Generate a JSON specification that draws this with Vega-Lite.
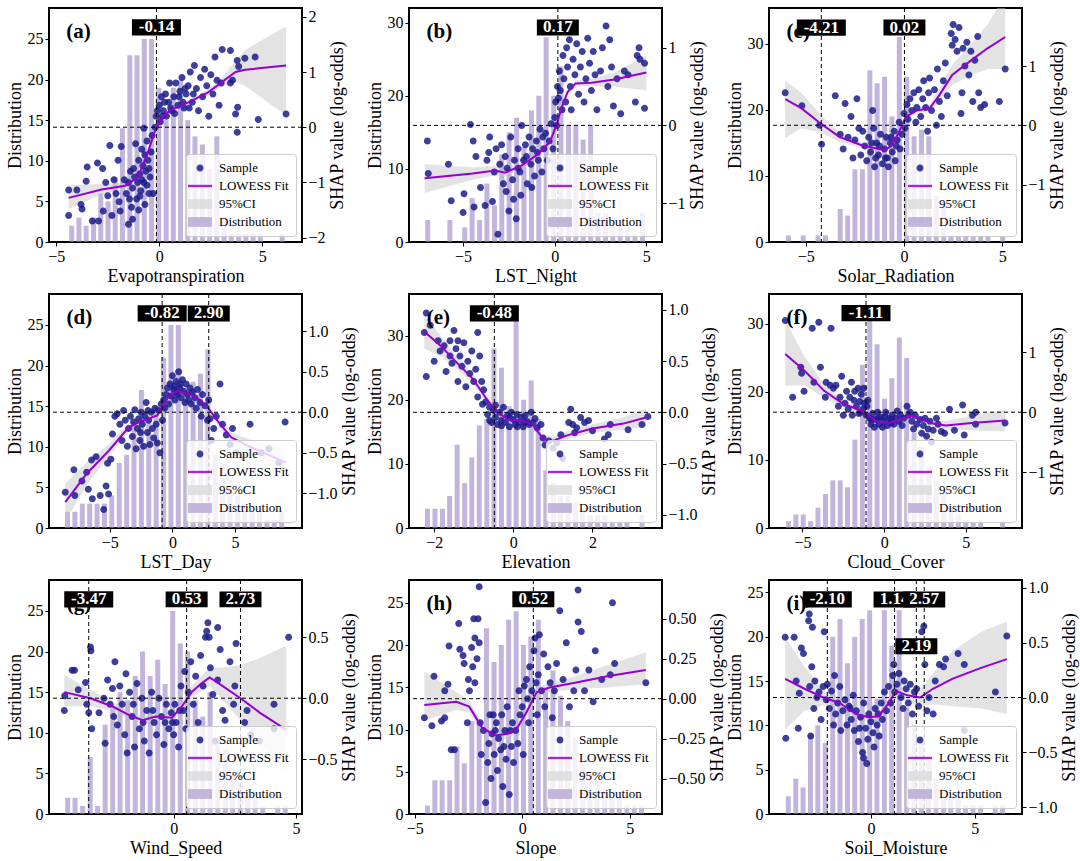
{
"$schema":"https://vega.github.io/schema/vega-lite/v6.json",
"padding":{"left":5,"top":6,"right":5,"bottom":3},
"bounds":"flush",
"columns":3,
"spacing":{"row":52,"column":107},
"resolve":{"scale":{"color":"independent","shape":"independent"},"legend":{"color":"independent","shape":"independent"}},
"config":{
 "view":{"stroke":"black","strokeWidth":2},
 "axis":{"domain":false,"grid":false,"tickColor":"black","tickSize":4,"tickWidth":1,"labelFont":"Liberation Serif","labelFontSize":16,"labelColor":"black","titleFont":"Liberation Serif","titleFontSize":18,"titleFontWeight":"normal","titleColor":"black","labelPadding":2,"titlePadding":3,"labelFlush":false},
 "legend":{"orient":"bottom-right","offset":6,"fillColor":"rgba(255,255,255,0.8)","strokeColor":"#cccccc","padding":7,"cornerRadius":3,"labelFont":"Liberation Serif","labelFontSize":13,"labelColor":"black","symbolSize":196,"rowPadding":4,"labelOffset":12,"symbolStrokeWidth":0}
},
"datasets":{
"thr":[{"p":"a","t":-0.14,"lab":"-0.14"},{"p":"b","t":0.17,"lab":"0.17"},{"p":"c","t":-4.21,"lab":"-4.21"},{"p":"c","t":0.02,"lab":"0.02"},{"p":"d","t":-0.82,"lab":"-0.82"},{"p":"d","t":2.9,"lab":"2.90"},{"p":"e","t":-0.48,"lab":"-0.48"},{"p":"f","t":-1.11,"lab":"-1.11"},{"p":"g","t":-3.47,"lab":"-3.47"},{"p":"g","t":0.53,"lab":"0.53"},{"p":"g","t":2.73,"lab":"2.73"},{"p":"h","t":0.52,"lab":"0.52"},{"p":"i","t":-2.1,"lab":"-2.10"},{"p":"i","t":1.14,"lab":"1.14"},{"p":"i","t":2.19,"lab":"2.19"},{"p":"i","t":2.57,"lab":"2.57"}],
"bars":[
{"p":"a","x":-4.25,"n":2},{"p":"a","x":-3.9,"n":3},{"p":"a","x":-3.55,"n":2},{"p":"a","x":-3.19,"n":3},{"p":"a","x":-2.84,"n":6},{"p":"a","x":-2.49,"n":5},{"p":"a","x":-2.14,"n":8},{"p":"a","x":-1.79,"n":14},{"p":"a","x":-1.43,"n":23},{"p":"a","x":-1.08,"n":23},{"p":"a","x":-0.73,"n":25},{"p":"a","x":-0.38,"n":25},{"p":"a","x":-0.03,"n":19},{"p":"a","x":0.33,"n":15},{"p":"a","x":0.68,"n":19},{"p":"a","x":1.03,"n":20},{"p":"a","x":1.38,"n":15},{"p":"a","x":1.73,"n":13},{"p":"a","x":2.09,"n":12},{"p":"a","x":2.44,"n":9},{"p":"a","x":2.79,"n":13},{"p":"a","x":3.14,"n":3},{"p":"a","x":3.49,"n":1},{"p":"a","x":3.85,"n":1},{"p":"a","x":4.2,"n":1},{"p":"a","x":4.55,"n":1},{"p":"a","x":4.9,"n":1},{"p":"a","x":5.96,"n":1},
{"p":"b","x":-6.93,"n":3},{"p":"b","x":-5.72,"n":3},{"p":"b","x":-4.91,"n":2},{"p":"b","x":-4.51,"n":6},{"p":"b","x":-4.1,"n":3},{"p":"b","x":-3.7,"n":8},{"p":"b","x":-3.29,"n":5},{"p":"b","x":-2.89,"n":12},{"p":"b","x":-2.49,"n":15},{"p":"b","x":-2.08,"n":17},{"p":"b","x":-1.68,"n":13},{"p":"b","x":-1.27,"n":18},{"p":"b","x":-0.87,"n":20},{"p":"b","x":-0.47,"n":28},{"p":"b","x":-0.06,"n":20},{"p":"b","x":0.34,"n":24},{"p":"b","x":0.75,"n":16},{"p":"b","x":1.15,"n":16},{"p":"b","x":1.55,"n":14},{"p":"b","x":1.96,"n":16},{"p":"b","x":2.36,"n":4},{"p":"b","x":2.77,"n":4},{"p":"b","x":3.17,"n":3},{"p":"b","x":3.57,"n":2},{"p":"b","x":3.98,"n":2},{"p":"b","x":4.38,"n":1},{"p":"b","x":4.79,"n":4},
{"p":"c","x":-5.88,"n":1},{"p":"c","x":-5.13,"n":1},{"p":"c","x":-4.38,"n":1},{"p":"c","x":-4.0,"n":1},{"p":"c","x":-3.25,"n":5},{"p":"c","x":-2.87,"n":4},{"p":"c","x":-2.5,"n":11},{"p":"c","x":-2.12,"n":11},{"p":"c","x":-1.74,"n":26},{"p":"c","x":-1.37,"n":24},{"p":"c","x":-0.99,"n":25},{"p":"c","x":-0.62,"n":19},{"p":"c","x":-0.24,"n":31},{"p":"c","x":0.14,"n":25},{"p":"c","x":0.51,"n":16},{"p":"c","x":0.89,"n":17},{"p":"c","x":1.26,"n":16},{"p":"c","x":1.64,"n":7},{"p":"c","x":2.02,"n":6},{"p":"c","x":2.39,"n":1},{"p":"c","x":2.77,"n":1},{"p":"c","x":3.14,"n":1},{"p":"c","x":3.52,"n":1},{"p":"c","x":3.9,"n":1},{"p":"c","x":4.27,"n":1},{"p":"c","x":5.02,"n":1},
{"p":"d","x":-8.38,"n":2},{"p":"d","x":-7.79,"n":2},{"p":"d","x":-7.2,"n":3},{"p":"d","x":-6.61,"n":3},{"p":"d","x":-6.02,"n":3},{"p":"d","x":-5.43,"n":3},{"p":"d","x":-4.84,"n":4},{"p":"d","x":-4.25,"n":8},{"p":"d","x":-3.66,"n":9},{"p":"d","x":-3.07,"n":13},{"p":"d","x":-2.48,"n":17},{"p":"d","x":-1.89,"n":13},{"p":"d","x":-1.3,"n":15},{"p":"d","x":-0.71,"n":21},{"p":"d","x":-0.12,"n":25},{"p":"d","x":0.47,"n":25},{"p":"d","x":1.06,"n":17},{"p":"d","x":1.65,"n":18},{"p":"d","x":2.24,"n":19},{"p":"d","x":2.83,"n":22},{"p":"d","x":3.42,"n":9},{"p":"d","x":4.01,"n":8},{"p":"d","x":4.6,"n":6},{"p":"d","x":5.19,"n":4},{"p":"d","x":5.78,"n":3},{"p":"d","x":6.37,"n":2},{"p":"d","x":6.96,"n":2},{"p":"d","x":7.55,"n":1},{"p":"d","x":8.14,"n":1},{"p":"d","x":8.73,"n":2},
{"p":"e","x":-2.17,"n":3},{"p":"e","x":-1.98,"n":3},{"p":"e","x":-1.79,"n":3},{"p":"e","x":-1.61,"n":5},{"p":"e","x":-1.42,"n":13},{"p":"e","x":-1.23,"n":7},{"p":"e","x":-1.05,"n":11},{"p":"e","x":-0.86,"n":16},{"p":"e","x":-0.67,"n":17},{"p":"e","x":-0.49,"n":28},{"p":"e","x":-0.3,"n":25},{"p":"e","x":-0.11,"n":19},{"p":"e","x":0.07,"n":33},{"p":"e","x":0.26,"n":20},{"p":"e","x":0.45,"n":23},{"p":"e","x":0.63,"n":17},{"p":"e","x":0.82,"n":9},{"p":"e","x":1.01,"n":7},{"p":"e","x":1.19,"n":5},{"p":"e","x":1.38,"n":5},{"p":"e","x":1.57,"n":4},{"p":"e","x":1.75,"n":3},{"p":"e","x":1.94,"n":2},{"p":"e","x":2.13,"n":2},{"p":"e","x":2.31,"n":2},{"p":"e","x":2.5,"n":1},{"p":"e","x":2.69,"n":1},{"p":"e","x":2.87,"n":1},{"p":"e","x":3.25,"n":2},
{"p":"f","x":-5.85,"n":1},{"p":"f","x":-5.4,"n":2},{"p":"f","x":-4.95,"n":2},{"p":"f","x":-4.5,"n":1},{"p":"f","x":-4.05,"n":3},{"p":"f","x":-3.59,"n":5},{"p":"f","x":-3.14,"n":7},{"p":"f","x":-2.69,"n":7},{"p":"f","x":-2.24,"n":6},{"p":"f","x":-1.79,"n":13},{"p":"f","x":-1.33,"n":24},{"p":"f","x":-0.88,"n":31},{"p":"f","x":-0.43,"n":27},{"p":"f","x":0.02,"n":19},{"p":"f","x":0.47,"n":22},{"p":"f","x":0.93,"n":28},{"p":"f","x":1.38,"n":25},{"p":"f","x":1.83,"n":14},{"p":"f","x":2.28,"n":12},{"p":"f","x":2.73,"n":9},{"p":"f","x":3.19,"n":7},{"p":"f","x":3.64,"n":5},{"p":"f","x":4.09,"n":3},{"p":"f","x":4.54,"n":2},{"p":"f","x":4.99,"n":1},{"p":"f","x":5.45,"n":1},{"p":"f","x":5.9,"n":1},{"p":"f","x":7.25,"n":1},
{"p":"g","x":-4.33,"n":2},{"p":"g","x":-4.03,"n":2},{"p":"g","x":-3.72,"n":1},{"p":"g","x":-3.41,"n":7},{"p":"g","x":-3.11,"n":1},{"p":"g","x":-2.8,"n":11},{"p":"g","x":-2.49,"n":13},{"p":"g","x":-2.19,"n":15},{"p":"g","x":-1.88,"n":14},{"p":"g","x":-1.57,"n":17},{"p":"g","x":-1.27,"n":20},{"p":"g","x":-0.96,"n":17},{"p":"g","x":-0.65,"n":19},{"p":"g","x":-0.35,"n":16},{"p":"g","x":-0.04,"n":25},{"p":"g","x":0.27,"n":21},{"p":"g","x":0.57,"n":20},{"p":"g","x":0.88,"n":14},{"p":"g","x":1.19,"n":12},{"p":"g","x":1.49,"n":15},{"p":"g","x":1.8,"n":9},{"p":"g","x":2.11,"n":8},{"p":"g","x":2.41,"n":5},{"p":"g","x":2.72,"n":4},{"p":"g","x":3.03,"n":3},{"p":"g","x":3.33,"n":2},{"p":"g","x":3.64,"n":1},{"p":"g","x":4.25,"n":1},{"p":"g","x":4.56,"n":1},
{"p":"h","x":-4.4,"n":1},{"p":"h","x":-4.06,"n":4},{"p":"h","x":-3.72,"n":4},{"p":"h","x":-3.37,"n":4},{"p":"h","x":-3.03,"n":8},{"p":"h","x":-2.69,"n":6},{"p":"h","x":-2.34,"n":11},{"p":"h","x":-2.0,"n":11},{"p":"h","x":-1.66,"n":22},{"p":"h","x":-1.31,"n":18},{"p":"h","x":-0.97,"n":20},{"p":"h","x":-0.63,"n":23},{"p":"h","x":-0.28,"n":24},{"p":"h","x":0.06,"n":20},{"p":"h","x":0.4,"n":21},{"p":"h","x":0.75,"n":23},{"p":"h","x":1.09,"n":15},{"p":"h","x":1.43,"n":17},{"p":"h","x":1.78,"n":14},{"p":"h","x":2.12,"n":11},{"p":"h","x":2.46,"n":9},{"p":"h","x":2.81,"n":7},{"p":"h","x":3.15,"n":5},{"p":"h","x":3.49,"n":4},{"p":"h","x":3.84,"n":3},{"p":"h","x":4.18,"n":2},{"p":"h","x":4.52,"n":2},{"p":"h","x":4.87,"n":1},{"p":"h","x":5.21,"n":1},{"p":"h","x":5.55,"n":1},
{"p":"i","x":-3.98,"n":2},{"p":"i","x":-3.62,"n":4},{"p":"i","x":-3.27,"n":3},{"p":"i","x":-2.91,"n":9},{"p":"i","x":-2.56,"n":10},{"p":"i","x":-2.2,"n":8},{"p":"i","x":-1.84,"n":20},{"p":"i","x":-1.49,"n":22},{"p":"i","x":-1.13,"n":17},{"p":"i","x":-0.78,"n":20},{"p":"i","x":-0.42,"n":22},{"p":"i","x":-0.06,"n":23},{"p":"i","x":0.29,"n":13},{"p":"i","x":0.65,"n":23},{"p":"i","x":1.0,"n":19},{"p":"i","x":1.36,"n":23},{"p":"i","x":1.72,"n":12},{"p":"i","x":2.07,"n":10},{"p":"i","x":2.43,"n":8},{"p":"i","x":2.78,"n":6},{"p":"i","x":3.14,"n":4},{"p":"i","x":3.5,"n":3},{"p":"i","x":3.85,"n":2},{"p":"i","x":4.21,"n":2},{"p":"i","x":4.56,"n":1},{"p":"i","x":4.92,"n":1},{"p":"i","x":5.28,"n":1},{"p":"i","x":5.99,"n":1},{"p":"i","x":6.34,"n":1}
],
"fit":[
{"p":"a","x":-4.4,"y":-1.28,"lo":-1.48,"hi":-1.05},{"p":"a","x":-2.8,"y":-1.13,"lo":-1.22,"hi":-1.03},{"p":"a","x":-1.65,"y":-1.06,"lo":-1.12,"hi":-1.0},{"p":"a","x":-1.04,"y":-0.91,"lo":-0.96,"hi":-0.86},{"p":"a","x":-0.58,"y":-0.48,"lo":-0.53,"hi":-0.43},{"p":"a","x":-0.2,"y":-0.06,"lo":-0.1,"hi":-0.02},{"p":"a","x":0.1,"y":0.15,"lo":0.11,"hi":0.19},{"p":"a","x":0.49,"y":0.3,"lo":0.26,"hi":0.34},{"p":"a","x":1.41,"y":0.45,"lo":0.41,"hi":0.49},{"p":"a","x":2.32,"y":0.62,"lo":0.57,"hi":0.67},{"p":"a","x":2.94,"y":0.79,"lo":0.72,"hi":0.86},{"p":"a","x":3.7,"y":1.0,"lo":0.82,"hi":1.2},{"p":"a","x":4.16,"y":1.04,"lo":0.75,"hi":1.4},{"p":"a","x":6.15,"y":1.12,"lo":0.21,"hi":1.83},
{"p":"b","x":-7.1,"y":-0.68,"lo":-0.87,"hi":-0.5},{"p":"b","x":-4.47,"y":-0.62,"lo":-0.7,"hi":-0.54},{"p":"b","x":-3.25,"y":-0.58,"lo":-0.64,"hi":-0.52},{"p":"b","x":-2.72,"y":-0.61,"lo":-0.66,"hi":-0.56},{"p":"b","x":-1.84,"y":-0.52,"lo":-0.56,"hi":-0.48},{"p":"b","x":-0.96,"y":-0.38,"lo":-0.42,"hi":-0.34},{"p":"b","x":-0.26,"y":-0.21,"lo":-0.25,"hi":-0.17},{"p":"b","x":0.09,"y":0.0,"lo":-0.04,"hi":0.04},{"p":"b","x":0.35,"y":0.21,"lo":0.17,"hi":0.25},{"p":"b","x":0.7,"y":0.43,"lo":0.39,"hi":0.47},{"p":"b","x":1.14,"y":0.54,"lo":0.5,"hi":0.58},{"p":"b","x":2.02,"y":0.55,"lo":0.5,"hi":0.6},{"p":"b","x":3.25,"y":0.59,"lo":0.5,"hi":0.68},{"p":"b","x":5.0,"y":0.68,"lo":0.45,"hi":0.9},
{"p":"c","x":-6.05,"y":0.44,"lo":-0.22,"hi":0.75},{"p":"c","x":-5.23,"y":0.29,"lo":-0.05,"hi":0.55},{"p":"c","x":-4.25,"y":0.03,"lo":-0.12,"hi":0.18},{"p":"c","x":-3.27,"y":-0.2,"lo":-0.28,"hi":-0.12},{"p":"c","x":-2.12,"y":-0.34,"lo":-0.39,"hi":-0.29},{"p":"c","x":-0.98,"y":-0.42,"lo":-0.46,"hi":-0.38},{"p":"c","x":-0.65,"y":-0.35,"lo":-0.39,"hi":-0.31},{"p":"c","x":-0.25,"y":-0.11,"lo":-0.15,"hi":-0.07},{"p":"c","x":0.08,"y":0.14,"lo":0.1,"hi":0.18},{"p":"c","x":0.65,"y":0.25,"lo":0.2,"hi":0.3},{"p":"c","x":1.31,"y":0.29,"lo":0.23,"hi":0.35},{"p":"c","x":1.8,"y":0.51,"lo":0.4,"hi":0.62},{"p":"c","x":2.45,"y":0.85,"lo":0.68,"hi":1.02},{"p":"c","x":3.43,"y":1.1,"lo":0.85,"hi":1.38},{"p":"c","x":4.25,"y":1.3,"lo":0.95,"hi":1.7},{"p":"c","x":5.15,"y":1.49,"lo":0.95,"hi":2.2},
{"p":"d","x":-8.56,"y":-1.11,"lo":-1.35,"hi":-0.88},{"p":"d","x":-6.85,"y":-0.76,"lo":-0.9,"hi":-0.62},{"p":"d","x":-5.05,"y":-0.47,"lo":-0.55,"hi":-0.39},{"p":"d","x":-3.51,"y":-0.19,"lo":-0.24,"hi":-0.14},{"p":"d","x":-2.49,"y":-0.11,"lo":-0.15,"hi":-0.07},{"p":"d","x":-1.21,"y":-0.04,"lo":-0.07,"hi":-0.01},{"p":"d","x":-0.69,"y":0.1,"lo":0.07,"hi":0.13},{"p":"d","x":-0.18,"y":0.22,"lo":0.19,"hi":0.25},{"p":"d","x":0.46,"y":0.26,"lo":0.23,"hi":0.29},{"p":"d","x":1.1,"y":0.24,"lo":0.21,"hi":0.27},{"p":"d","x":2.13,"y":0.16,"lo":0.13,"hi":0.19},{"p":"d","x":2.9,"y":0.04,"lo":0.0,"hi":0.08},{"p":"d","x":3.67,"y":-0.12,"lo":-0.17,"hi":-0.07},{"p":"d","x":4.69,"y":-0.31,"lo":-0.37,"hi":-0.25},{"p":"d","x":6.23,"y":-0.43,"lo":-0.52,"hi":-0.34},{"p":"d","x":9.05,"y":-0.62,"lo":-0.75,"hi":-0.45},
{"p":"e","x":-2.25,"y":0.79,"lo":0.62,"hi":0.95},{"p":"e","x":-1.84,"y":0.65,"lo":0.55,"hi":0.75},{"p":"e","x":-1.44,"y":0.49,"lo":0.43,"hi":0.55},{"p":"e","x":-1.03,"y":0.33,"lo":0.28,"hi":0.38},{"p":"e","x":-0.71,"y":0.15,"lo":0.11,"hi":0.19},{"p":"e","x":-0.46,"y":0.02,"lo":-0.01,"hi":0.05},{"p":"e","x":-0.14,"y":-0.07,"lo":-0.09,"hi":-0.05},{"p":"e","x":0.19,"y":-0.08,"lo":-0.1,"hi":-0.06},{"p":"e","x":0.47,"y":-0.11,"lo":-0.14,"hi":-0.08},{"p":"e","x":0.75,"y":-0.26,"lo":-0.3,"hi":-0.22},{"p":"e","x":1.0,"y":-0.28,"lo":-0.32,"hi":-0.24},{"p":"e","x":1.32,"y":-0.23,"lo":-0.27,"hi":-0.19},{"p":"e","x":1.97,"y":-0.16,"lo":-0.2,"hi":-0.12},{"p":"e","x":2.78,"y":-0.11,"lo":-0.17,"hi":-0.05},{"p":"e","x":3.35,"y":-0.05,"lo":-0.14,"hi":0.04},
{"p":"f","x":-6.05,"y":0.97,"lo":0.44,"hi":1.53},{"p":"f","x":-4.87,"y":0.69,"lo":0.45,"hi":0.93},{"p":"f","x":-3.69,"y":0.36,"lo":0.24,"hi":0.48},{"p":"f","x":-2.51,"y":0.14,"lo":0.08,"hi":0.2},{"p":"f","x":-1.34,"y":0.02,"lo":-0.02,"hi":0.06},{"p":"f","x":-0.55,"y":-0.14,"lo":-0.17,"hi":-0.11},{"p":"f","x":0.24,"y":-0.19,"lo":-0.22,"hi":-0.16},{"p":"f","x":1.02,"y":-0.11,"lo":-0.14,"hi":-0.08},{"p":"f","x":1.61,"y":-0.06,"lo":-0.1,"hi":-0.02},{"p":"f","x":2.2,"y":-0.11,"lo":-0.15,"hi":-0.07},{"p":"f","x":2.99,"y":-0.19,"lo":-0.24,"hi":-0.14},{"p":"f","x":3.77,"y":-0.22,"lo":-0.29,"hi":-0.15},{"p":"f","x":5.34,"y":-0.18,"lo":-0.3,"hi":-0.06},{"p":"f","x":7.41,"y":-0.14,"lo":-0.32,"hi":0.04},
{"p":"g","x":-4.47,"y":0.05,"lo":-0.07,"hi":0.19},{"p":"g","x":-3.4,"y":0.0,"lo":-0.06,"hi":0.07},{"p":"g","x":-2.47,"y":-0.07,"lo":-0.11,"hi":-0.03},{"p":"g","x":-1.8,"y":-0.14,"lo":-0.17,"hi":-0.11},{"p":"g","x":-1.27,"y":-0.18,"lo":-0.21,"hi":-0.15},{"p":"g","x":-0.73,"y":-0.15,"lo":-0.18,"hi":-0.12},{"p":"g","x":-0.07,"y":-0.16,"lo":-0.19,"hi":-0.13},{"p":"g","x":0.33,"y":-0.07,"lo":-0.11,"hi":-0.03},{"p":"g","x":0.73,"y":0.05,"lo":0.0,"hi":0.1},{"p":"g","x":1.13,"y":0.12,"lo":0.06,"hi":0.18},{"p":"g","x":1.47,"y":0.17,"lo":0.1,"hi":0.25},{"p":"g","x":1.93,"y":0.11,"lo":0.0,"hi":0.25},{"p":"g","x":2.73,"y":0.0,"lo":-0.18,"hi":0.27},{"p":"g","x":3.53,"y":-0.12,"lo":-0.38,"hi":0.33},{"p":"g","x":4.6,"y":-0.26,"lo":-0.6,"hi":0.43},
{"p":"h","x":-4.55,"y":-0.04,"lo":-0.14,"hi":0.17},{"p":"h","x":-3.06,"y":-0.02,"lo":-0.07,"hi":0.04},{"p":"h","x":-2.46,"y":-0.05,"lo":-0.09,"hi":-0.01},{"p":"h","x":-1.87,"y":-0.18,"lo":-0.21,"hi":-0.15},{"p":"h","x":-1.27,"y":-0.23,"lo":-0.26,"hi":-0.2},{"p":"h","x":-0.67,"y":-0.22,"lo":-0.25,"hi":-0.19},{"p":"h","x":-0.22,"y":-0.18,"lo":-0.21,"hi":-0.15},{"p":"h","x":0.22,"y":-0.08,"lo":-0.11,"hi":-0.05},{"p":"h","x":0.67,"y":0.04,"lo":0.01,"hi":0.07},{"p":"h","x":1.27,"y":0.07,"lo":0.04,"hi":0.1},{"p":"h","x":2.46,"y":0.1,"lo":0.06,"hi":0.14},{"p":"h","x":3.96,"y":0.14,"lo":0.07,"hi":0.21},{"p":"h","x":5.75,"y":0.18,"lo":0.09,"hi":0.29},
{"p":"i","x":-4.13,"y":0.17,"lo":-0.29,"hi":0.55},{"p":"i","x":-3.2,"y":0.08,"lo":-0.12,"hi":0.28},{"p":"i","x":-2.28,"y":0.0,"lo":-0.07,"hi":0.07},{"p":"i","x":-1.5,"y":-0.05,"lo":-0.09,"hi":-0.01},{"p":"i","x":-0.73,"y":-0.15,"lo":-0.19,"hi":-0.11},{"p":"i","x":-0.11,"y":-0.18,"lo":-0.22,"hi":-0.14},{"p":"i","x":0.36,"y":-0.17,"lo":-0.21,"hi":-0.13},{"p":"i","x":0.82,"y":-0.06,"lo":-0.1,"hi":-0.02},{"p":"i","x":1.21,"y":0.06,"lo":0.01,"hi":0.11},{"p":"i","x":1.75,"y":0.02,"lo":-0.04,"hi":0.08},{"p":"i","x":2.37,"y":0.0,"lo":-0.08,"hi":0.08},{"p":"i","x":2.99,"y":0.08,"lo":-0.06,"hi":0.22},{"p":"i","x":3.92,"y":0.17,"lo":-0.08,"hi":0.42},{"p":"i","x":5.31,"y":0.27,"lo":-0.1,"hi":0.6},{"p":"i","x":6.55,"y":0.35,"lo":-0.15,"hi":0.69}
],
"pts":[
{"p":"a","x":-4.4,"y":-1.6},{"p":"a","x":-4.4,"y":-1.14},{"p":"a","x":-4.0,"y":-1.14},{"p":"a","x":-3.8,"y":-1.4},{"p":"a","x":-3.75,"y":-1.48},{"p":"a","x":-3.5,"y":-0.72},{"p":"a","x":-3.55,"y":-0.98},{"p":"a","x":-3.25,"y":-1.7},{"p":"a","x":-3.0,"y":-0.65},{"p":"a","x":-2.75,"y":-0.75},{"p":"a","x":-2.95,"y":-1.7},{"p":"a","x":-2.72,"y":-1.52},{"p":"a","x":-2.5,"y":-1.24},{"p":"a","x":-2.4,"y":-0.33},{"p":"a","x":-2.6,"y":-1.0},{"p":"a","x":-2.3,"y":-1.6},{"p":"a","x":-2.2,"y":-0.95},{"p":"a","x":-2.1,"y":-1.2},{"p":"a","x":-2.0,"y":-0.6},{"p":"a","x":-1.85,"y":-0.35},{"p":"a","x":-1.9,"y":-1.52},{"p":"a","x":-1.95,"y":-1.35},{"p":"a","x":-1.5,"y":-1.76},{"p":"a","x":-1.3,"y":-1.67},{"p":"a","x":-1.6,"y":-1.2},{"p":"a","x":-1.5,"y":-1.0},{"p":"a","x":-1.4,"y":-0.8},{"p":"a","x":-1.3,"y":-1.1},{"p":"a","x":-1.2,"y":-0.9},{"p":"a","x":-1.15,"y":-0.3},{"p":"a","x":-1.1,"y":-1.3},{"p":"a","x":-1.05,"y":-1.0},{"p":"a","x":-1.0,"y":-0.6},{"p":"a","x":-0.95,"y":-0.85},{"p":"a","x":-0.9,"y":-1.15},{"p":"a","x":-0.85,"y":-0.4},{"p":"a","x":-0.8,"y":-0.7},{"p":"a","x":-0.75,"y":-1.0},{"p":"a","x":-0.7,"y":-0.5},{"p":"a","x":-0.7,"y":-1.4},{"p":"a","x":-0.65,"y":-0.8},{"p":"a","x":-0.6,"y":-0.25},{"p":"a","x":-0.55,"y":-0.6},{"p":"a","x":-0.5,"y":-1.2},{"p":"a","x":-0.45,"y":-0.9},{"p":"a","x":-0.4,"y":-0.45},{"p":"a","x":-0.35,"y":-0.15},{"p":"a","x":-0.3,"y":-1.2},{"p":"a","x":-0.75,"y":-0.02},{"p":"a","x":-1.7,"y":-0.95},{"p":"a","x":-1.35,"y":-1.45},{"p":"a","x":-1.0,"y":-1.5},{"p":"a","x":-1.45,"y":-1.3},{"p":"a","x":-1.25,"y":-0.75},{"p":"a","x":-0.95,"y":-1.25},{"p":"a","x":-0.85,"y":-0.95},{"p":"a","x":-0.6,"y":-1.05},{"p":"a","x":-0.5,"y":-0.75},{"p":"a","x":-0.2,"y":0.0},{"p":"a","x":-0.1,"y":0.3},{"p":"a","x":0.0,"y":0.4},{"p":"a","x":0.05,"y":0.1},{"p":"a","x":0.1,"y":0.55},{"p":"a","x":0.2,"y":0.3},{"p":"a","x":0.3,"y":0.6},{"p":"a","x":0.35,"y":0.2},{"p":"a","x":0.45,"y":0.45},{"p":"a","x":0.5,"y":0.8},{"p":"a","x":0.6,"y":0.3},{"p":"a","x":0.7,"y":0.55},{"p":"a","x":0.8,"y":0.8},{"p":"a","x":0.9,"y":0.4},{"p":"a","x":1.0,"y":0.65},{"p":"a","x":1.1,"y":0.9},{"p":"a","x":1.2,"y":0.35},{"p":"a","x":1.3,"y":0.6},{"p":"a","x":1.4,"y":0.75},{"p":"a","x":1.5,"y":1.0},{"p":"a","x":1.6,"y":0.45},{"p":"a","x":1.7,"y":1.12},{"p":"a","x":1.8,"y":0.7},{"p":"a","x":1.9,"y":0.3},{"p":"a","x":2.0,"y":0.9},{"p":"a","x":2.1,"y":0.55},{"p":"a","x":2.2,"y":1.05},{"p":"a","x":2.3,"y":0.75},{"p":"a","x":2.4,"y":0.2},{"p":"a","x":2.5,"y":0.95},{"p":"a","x":2.6,"y":0.6},{"p":"a","x":2.7,"y":1.27},{"p":"a","x":2.8,"y":0.85},{"p":"a","x":2.9,"y":0.4},{"p":"a","x":3.05,"y":1.41},{"p":"a","x":3.0,"y":0.8},{"p":"a","x":3.45,"y":1.39},{"p":"a","x":3.45,"y":0.8},{"p":"a","x":3.7,"y":0.24},{"p":"a","x":3.8,"y":0.36},{"p":"a","x":3.78,"y":-0.09},{"p":"a","x":3.78,"y":1.21},{"p":"a","x":3.85,"y":1.1},{"p":"a","x":4.15,"y":1.25},{"p":"a","x":4.65,"y":1.27},{"p":"a","x":4.8,"y":0.14},{"p":"a","x":6.15,"y":0.24},{"p":"a","x":3.55,"y":0.85},{"p":"a","x":0.25,"y":0.45},{"p":"a","x":0.55,"y":0.35},{"p":"a","x":0.75,"y":0.25},{"p":"a","x":0.95,"y":0.55},{"p":"a","x":1.15,"y":0.45},{"p":"a","x":1.25,"y":0.7},{"p":"a","x":1.45,"y":0.35},{"p":"a","x":1.65,"y":0.6},{"p":"a","x":0.15,"y":0.2},{"p":"a","x":-0.15,"y":0.2},
{"p":"b","x":-6.95,"y":-0.2},{"p":"b","x":-6.9,"y":-0.62},{"p":"b","x":-5.8,"y":-0.5},{"p":"b","x":-5.65,"y":-0.97},{"p":"b","x":-5.0,"y":-1.12},{"p":"b","x":-4.95,"y":-0.88},{"p":"b","x":-4.6,"y":0.01},{"p":"b","x":-4.45,"y":-0.2},{"p":"b","x":-4.3,"y":-0.4},{"p":"b","x":-4.4,"y":-1.05},{"p":"b","x":-4.05,"y":-0.8},{"p":"b","x":-3.8,"y":-1.03},{"p":"b","x":-3.6,"y":-0.35},{"p":"b","x":-3.7,"y":-0.45},{"p":"b","x":-3.55,"y":-0.15},{"p":"b","x":-3.4,"y":-0.98},{"p":"b","x":-3.3,"y":-0.6},{"p":"b","x":-3.2,"y":-0.3},{"p":"b","x":-3.1,"y":-1.4},{"p":"b","x":-3.0,"y":-0.5},{"p":"b","x":-2.9,"y":-0.25},{"p":"b","x":-2.8,"y":-0.75},{"p":"b","x":-2.7,"y":-0.4},{"p":"b","x":-2.6,"y":-0.55},{"p":"b","x":-2.5,"y":-1.1},{"p":"b","x":-2.4,"y":-0.15},{"p":"b","x":-2.3,"y":-0.7},{"p":"b","x":-2.25,"y":-0.95},{"p":"b","x":-2.2,"y":-0.45},{"p":"b","x":-2.1,"y":-1.2},{"p":"b","x":-2.0,"y":-0.3},{"p":"b","x":-1.9,"y":-0.6},{"p":"b","x":-1.85,"y":-0.9},{"p":"b","x":-1.8,"y":0.0},{"p":"b","x":-1.7,"y":-0.45},{"p":"b","x":-1.6,"y":-0.25},{"p":"b","x":-1.5,"y":-0.75},{"p":"b","x":-1.4,"y":-0.15},{"p":"b","x":-1.3,"y":-0.5},{"p":"b","x":-1.2,"y":-0.3},{"p":"b","x":-1.1,"y":-0.65},{"p":"b","x":-1.0,"y":-0.2},{"p":"b","x":-0.9,"y":-0.45},{"p":"b","x":-0.8,"y":-0.05},{"p":"b","x":-0.7,"y":-0.6},{"p":"b","x":-0.6,"y":-0.3},{"p":"b","x":-0.5,"y":-0.1},{"p":"b","x":-0.4,"y":-0.45},{"p":"b","x":-0.3,"y":-0.2},{"p":"b","x":-0.2,"y":0.02},{"p":"b","x":-0.1,"y":-0.3},{"p":"b","x":0.0,"y":0.1},{"p":"b","x":0.05,"y":0.3},{"p":"b","x":0.1,"y":0.0},{"p":"b","x":0.15,"y":0.5},{"p":"b","x":0.2,"y":0.35},{"p":"b","x":0.25,"y":0.7},{"p":"b","x":0.3,"y":0.45},{"p":"b","x":0.4,"y":0.2},{"p":"b","x":0.45,"y":0.9},{"p":"b","x":0.5,"y":0.6},{"p":"b","x":0.6,"y":0.3},{"p":"b","x":0.65,"y":1.0},{"p":"b","x":0.7,"y":0.75},{"p":"b","x":0.8,"y":1.1},{"p":"b","x":0.85,"y":0.5},{"p":"b","x":0.9,"y":0.2},{"p":"b","x":1.0,"y":0.85},{"p":"b","x":1.1,"y":0.65},{"p":"b","x":1.2,"y":1.05},{"p":"b","x":1.3,"y":0.4},{"p":"b","x":1.4,"y":0.75},{"p":"b","x":1.5,"y":0.95},{"p":"b","x":1.6,"y":0.3},{"p":"b","x":1.7,"y":0.6},{"p":"b","x":1.8,"y":1.12},{"p":"b","x":1.9,"y":0.8},{"p":"b","x":2.0,"y":0.45},{"p":"b","x":2.1,"y":0.95},{"p":"b","x":2.2,"y":0.65},{"p":"b","x":2.3,"y":0.2},{"p":"b","x":2.5,"y":0.7},{"p":"b","x":2.6,"y":1.0},{"p":"b","x":2.8,"y":1.28},{"p":"b","x":2.9,"y":0.5},{"p":"b","x":3.0,"y":1.1},{"p":"b","x":3.1,"y":0.75},{"p":"b","x":3.2,"y":0.25},{"p":"b","x":3.4,"y":0.6},{"p":"b","x":3.6,"y":0.15},{"p":"b","x":3.8,"y":0.7},{"p":"b","x":4.0,"y":0.65},{"p":"b","x":4.4,"y":0.3},{"p":"b","x":4.5,"y":0.9},{"p":"b","x":4.6,"y":1.0},{"p":"b","x":4.65,"y":0.85},{"p":"b","x":4.9,"y":0.22},{"p":"b","x":4.9,"y":0.8},{"p":"b","x":-2.65,"y":-0.85},{"p":"b","x":-2.0,"y":-0.55},{"p":"b","x":-1.55,"y":-0.4},{"p":"b","x":-1.25,"y":-0.8},{"p":"b","x":-0.95,"y":-0.35},{"p":"b","x":-0.65,"y":-0.15},
{"p":"c","x":-6.05,"y":0.55},{"p":"c","x":-5.2,"y":0.33},{"p":"c","x":-4.3,"y":0.0},{"p":"c","x":-4.2,"y":-0.32},{"p":"c","x":-3.5,"y":0.5},{"p":"c","x":-3.0,"y":0.37},{"p":"c","x":-3.1,"y":-0.4},{"p":"c","x":-3.25,"y":-0.15},{"p":"c","x":-2.7,"y":0.15},{"p":"c","x":-2.85,"y":-0.2},{"p":"c","x":-2.6,"y":-0.55},{"p":"c","x":-2.5,"y":-0.25},{"p":"c","x":-2.4,"y":0.45},{"p":"c","x":-2.3,"y":-0.05},{"p":"c","x":-2.2,"y":-0.5},{"p":"c","x":-2.1,"y":-0.1},{"p":"c","x":-2.0,"y":-0.35},{"p":"c","x":-1.9,"y":-0.6},{"p":"c","x":-1.8,"y":-0.2},{"p":"c","x":-1.7,"y":-0.45},{"p":"c","x":-1.6,"y":0.25},{"p":"c","x":-1.55,"y":-0.05},{"p":"c","x":-1.5,"y":-0.7},{"p":"c","x":-1.4,"y":-0.3},{"p":"c","x":-1.3,"y":-0.5},{"p":"c","x":-1.2,"y":-0.15},{"p":"c","x":-1.1,"y":-0.65},{"p":"c","x":-1.0,"y":-0.4},{"p":"c","x":-0.9,"y":-0.2},{"p":"c","x":-0.85,"y":-0.55},{"p":"c","x":-0.8,"y":-0.7},{"p":"c","x":-0.7,"y":-0.3},{"p":"c","x":-0.6,"y":-0.45},{"p":"c","x":-0.5,"y":-0.1},{"p":"c","x":-0.45,"y":-0.6},{"p":"c","x":-0.35,"y":-0.25},{"p":"c","x":-0.25,"y":0.05},{"p":"c","x":-0.2,"y":-0.4},{"p":"c","x":-0.1,"y":-0.15},{"p":"c","x":0.0,"y":0.2},{"p":"c","x":0.05,"y":-0.05},{"p":"c","x":0.15,"y":0.35},{"p":"c","x":0.2,"y":0.1},{"p":"c","x":0.3,"y":0.45},{"p":"c","x":0.4,"y":0.25},{"p":"c","x":0.5,"y":0.55},{"p":"c","x":0.6,"y":0.05},{"p":"c","x":0.65,"y":0.3},{"p":"c","x":0.75,"y":0.6},{"p":"c","x":0.85,"y":0.15},{"p":"c","x":0.95,"y":0.45},{"p":"c","x":1.0,"y":0.75},{"p":"c","x":1.1,"y":0.3},{"p":"c","x":1.2,"y":-0.1},{"p":"c","x":1.25,"y":0.55},{"p":"c","x":1.3,"y":0.8},{"p":"c","x":1.4,"y":0.25},{"p":"c","x":1.55,"y":0.6},{"p":"c","x":1.65,"y":0.0},{"p":"c","x":1.7,"y":0.95},{"p":"c","x":1.8,"y":0.4},{"p":"c","x":1.9,"y":0.15},{"p":"c","x":2.0,"y":0.75},{"p":"c","x":2.1,"y":1.05},{"p":"c","x":2.2,"y":0.5},{"p":"c","x":2.4,"y":1.55},{"p":"c","x":2.45,"y":1.35},{"p":"c","x":2.5,"y":1.7},{"p":"c","x":2.6,"y":1.45},{"p":"c","x":2.7,"y":1.25},{"p":"c","x":2.8,"y":1.65},{"p":"c","x":2.9,"y":0.2},{"p":"c","x":2.95,"y":0.55},{"p":"c","x":3.0,"y":1.3},{"p":"c","x":3.1,"y":1.0},{"p":"c","x":3.2,"y":1.4},{"p":"c","x":3.3,"y":0.85},{"p":"c","x":3.4,"y":1.25},{"p":"c","x":3.5,"y":0.4},{"p":"c","x":3.6,"y":1.1},{"p":"c","x":3.75,"y":1.5},{"p":"c","x":3.8,"y":0.55},{"p":"c","x":3.9,"y":0.3},{"p":"c","x":4.1,"y":0.35},{"p":"c","x":4.85,"y":0.4},{"p":"c","x":5.15,"y":0.95},{"p":"c","x":-1.65,"y":-0.3},{"p":"c","x":-1.25,"y":-0.35},{"p":"c","x":-0.95,"y":-0.55},{"p":"c","x":-0.65,"y":-0.2},{"p":"c","x":-0.4,"y":-0.35},{"p":"c","x":-1.45,"y":-0.55},
{"p":"d","x":-8.56,"y":-0.99},{"p":"d","x":-7.87,"y":-0.71},{"p":"d","x":-7.8,"y":-1.03},{"p":"d","x":-7.23,"y":-0.85},{"p":"d","x":-6.85,"y":-0.74},{"p":"d","x":-6.72,"y":-0.95},{"p":"d","x":-6.46,"y":-0.59},{"p":"d","x":-6.4,"y":-1.07},{"p":"d","x":-6.1,"y":-0.55},{"p":"d","x":-5.77,"y":-1.03},{"p":"d","x":-5.49,"y":-1.2},{"p":"d","x":-5.3,"y":-0.91},{"p":"d","x":-5.18,"y":-0.63},{"p":"d","x":-5.1,"y":-1.01},{"p":"d","x":-4.92,"y":-0.58},{"p":"d","x":-4.79,"y":-0.27},{"p":"d","x":-4.6,"y":-0.05},{"p":"d","x":-4.41,"y":-0.02},{"p":"d","x":-4.2,"y":-0.15},{"p":"d","x":-4.03,"y":-0.35},{"p":"d","x":-3.9,"y":0.02},{"p":"d","x":-3.77,"y":-0.1},{"p":"d","x":-3.6,"y":-0.42},{"p":"d","x":-3.5,"y":-0.2},{"p":"d","x":-3.35,"y":-0.05},{"p":"d","x":-3.2,"y":-0.3},{"p":"d","x":-3.1,"y":-0.12},{"p":"d","x":-3.0,"y":0.03},{"p":"d","x":-2.9,"y":-0.45},{"p":"d","x":-2.8,"y":-0.2},{"p":"d","x":-2.7,"y":-0.08},{"p":"d","x":-2.6,"y":-0.35},{"p":"d","x":-2.5,"y":0.0},{"p":"d","x":-2.4,"y":-0.15},{"p":"d","x":-2.3,"y":-0.42},{"p":"d","x":-2.2,"y":-0.05},{"p":"d","x":-2.1,"y":0.12},{"p":"d","x":-2.0,"y":-0.25},{"p":"d","x":-1.9,"y":-0.1},{"p":"d","x":-1.8,"y":-0.4},{"p":"d","x":-1.7,"y":0.0},{"p":"d","x":-1.6,"y":-0.2},{"p":"d","x":-1.5,"y":-0.32},{"p":"d","x":-1.4,"y":0.05},{"p":"d","x":-1.3,"y":-0.15},{"p":"d","x":-1.2,"y":-0.38},{"p":"d","x":-1.1,"y":0.02},{"p":"d","x":-1.0,"y":-0.5},{"p":"d","x":-0.9,"y":0.1},{"p":"d","x":-0.8,"y":-0.1},{"p":"d","x":-0.7,"y":0.15},{"p":"d","x":-0.6,"y":0.05},{"p":"d","x":-0.5,"y":0.22},{"p":"d","x":-0.4,"y":0.3},{"p":"d","x":-0.3,"y":0.1},{"p":"d","x":-0.2,"y":0.35},{"p":"d","x":-0.1,"y":0.2},{"p":"d","x":0.0,"y":0.45},{"p":"d","x":0.1,"y":0.28},{"p":"d","x":0.2,"y":0.15},{"p":"d","x":0.3,"y":0.38},{"p":"d","x":0.4,"y":0.22},{"p":"d","x":0.5,"y":0.5},{"p":"d","x":0.6,"y":0.3},{"p":"d","x":0.7,"y":0.18},{"p":"d","x":0.8,"y":0.4},{"p":"d","x":0.9,"y":0.26},{"p":"d","x":1.0,"y":0.12},{"p":"d","x":1.1,"y":0.35},{"p":"d","x":1.2,"y":0.22},{"p":"d","x":1.4,"y":0.3},{"p":"d","x":1.5,"y":0.1},{"p":"d","x":1.6,"y":0.25},{"p":"d","x":1.8,"y":0.18},{"p":"d","x":1.9,"y":0.05},{"p":"d","x":2.0,"y":0.28},{"p":"d","x":2.2,"y":0.12},{"p":"d","x":2.3,"y":-0.05},{"p":"d","x":2.4,"y":0.22},{"p":"d","x":2.6,"y":0.08},{"p":"d","x":2.8,"y":-0.1},{"p":"d","x":2.9,"y":0.15},{"p":"d","x":3.0,"y":-0.08},{"p":"d","x":3.1,"y":-0.35},{"p":"d","x":3.3,"y":-0.2},{"p":"d","x":3.5,"y":-0.05},{"p":"d","x":3.8,"y":0.35},{"p":"d","x":4.0,"y":-0.15},{"p":"d","x":4.3,"y":-0.28},{"p":"d","x":4.6,"y":-0.4},{"p":"d","x":4.8,"y":-0.2},{"p":"d","x":5.1,"y":-0.5},{"p":"d","x":5.6,"y":-0.55},{"p":"d","x":6.2,"y":-0.15},{"p":"d","x":7.1,"y":-0.5},{"p":"d","x":7.7,"y":-0.45},{"p":"d","x":8.5,"y":-0.62},{"p":"d","x":9.0,"y":-0.12},{"p":"d","x":0.15,"y":0.32},{"p":"d","x":0.35,"y":0.25},{"p":"d","x":0.65,"y":0.35},{"p":"d","x":1.3,"y":0.15},{"p":"d","x":-2.55,"y":-0.25},{"p":"d","x":-1.95,"y":0.02},
{"p":"e","x":-2.25,"y":0.78},{"p":"e","x":-2.2,"y":0.35},{"p":"e","x":-2.2,"y":0.97},{"p":"e","x":-2.1,"y":0.85},{"p":"e","x":-2.0,"y":0.5},{"p":"e","x":-1.9,"y":0.7},{"p":"e","x":-1.85,"y":0.6},{"p":"e","x":-1.75,"y":0.65},{"p":"e","x":-1.7,"y":0.4},{"p":"e","x":-1.6,"y":0.7},{"p":"e","x":-1.6,"y":0.55},{"p":"e","x":-1.55,"y":0.48},{"p":"e","x":-1.5,"y":0.8},{"p":"e","x":-1.45,"y":0.62},{"p":"e","x":-1.4,"y":0.7},{"p":"e","x":-1.4,"y":0.3},{"p":"e","x":-1.35,"y":0.55},{"p":"e","x":-1.3,"y":0.45},{"p":"e","x":-1.25,"y":0.68},{"p":"e","x":-1.2,"y":0.25},{"p":"e","x":-1.15,"y":0.5},{"p":"e","x":-1.1,"y":0.38},{"p":"e","x":-1.05,"y":0.6},{"p":"e","x":-1.0,"y":0.3},{"p":"e","x":-0.95,"y":0.42},{"p":"e","x":-0.9,"y":0.78},{"p":"e","x":-0.9,"y":0.15},{"p":"e","x":-0.85,"y":0.55},{"p":"e","x":-0.8,"y":0.3},{"p":"e","x":-0.78,"y":0.08},{"p":"e","x":-0.75,"y":0.22},{"p":"e","x":-0.7,"y":0.1},{"p":"e","x":-0.65,"y":-0.02},{"p":"e","x":-0.6,"y":0.05},{"p":"e","x":-0.55,"y":-0.1},{"p":"e","x":-0.5,"y":0.02},{"p":"e","x":-0.45,"y":-0.05},{"p":"e","x":-0.4,"y":-0.12},{"p":"e","x":-0.35,"y":0.0},{"p":"e","x":-0.3,"y":-0.08},{"p":"e","x":-0.25,"y":0.05},{"p":"e","x":-0.2,"y":-0.1},{"p":"e","x":-0.15,"y":-0.03},{"p":"e","x":-0.1,"y":-0.14},{"p":"e","x":-0.05,"y":0.0},{"p":"e","x":0.0,"y":-0.07},{"p":"e","x":0.05,"y":-0.12},{"p":"e","x":0.1,"y":-0.02},{"p":"e","x":0.15,"y":-0.1},{"p":"e","x":0.2,"y":-0.05},{"p":"e","x":0.25,"y":-0.14},{"p":"e","x":0.3,"y":-0.03},{"p":"e","x":0.35,"y":-0.09},{"p":"e","x":0.4,"y":-0.12},{"p":"e","x":0.45,"y":0.0},{"p":"e","x":0.5,"y":-0.1},{"p":"e","x":0.55,"y":-0.06},{"p":"e","x":0.6,"y":-0.15},{"p":"e","x":0.7,"y":-0.12},{"p":"e","x":0.75,"y":-0.25},{"p":"e","x":0.8,"y":-0.32},{"p":"e","x":0.9,"y":-0.28},{"p":"e","x":1.0,"y":-0.35},{"p":"e","x":1.1,"y":-0.3},{"p":"e","x":1.2,"y":-0.22},{"p":"e","x":1.25,"y":-0.45},{"p":"e","x":1.4,"y":-0.1},{"p":"e","x":1.45,"y":0.03},{"p":"e","x":1.5,"y":-0.12},{"p":"e","x":1.55,"y":-0.2},{"p":"e","x":1.6,"y":-0.15},{"p":"e","x":1.7,"y":-0.05},{"p":"e","x":1.8,"y":-0.1},{"p":"e","x":1.9,"y":-0.08},{"p":"e","x":2.0,"y":-0.18},{"p":"e","x":2.3,"y":-0.26},{"p":"e","x":2.4,"y":-0.22},{"p":"e","x":2.45,"y":-0.12},{"p":"e","x":2.9,"y":-0.17},{"p":"e","x":3.25,"y":-0.12},{"p":"e","x":3.4,"y":-0.04},{"p":"e","x":-0.3,"y":-0.13},{"p":"e","x":-0.1,"y":-0.05},{"p":"e","x":0.1,"y":-0.14},{"p":"e","x":0.3,"y":-0.1},{"p":"e","x":-0.6,"y":-0.08},{"p":"e","x":-0.45,"y":0.07},
{"p":"f","x":-6.05,"y":1.53},{"p":"f","x":-5.6,"y":0.25},{"p":"f","x":-5.1,"y":0.75},{"p":"f","x":-5.05,"y":0.65},{"p":"f","x":-4.9,"y":0.35},{"p":"f","x":-4.4,"y":1.4},{"p":"f","x":-4.3,"y":0.5},{"p":"f","x":-4.0,"y":1.5},{"p":"f","x":-3.9,"y":0.75},{"p":"f","x":-3.6,"y":0.25},{"p":"f","x":-3.55,"y":0.5},{"p":"f","x":-3.3,"y":0.45},{"p":"f","x":-3.25,"y":1.4},{"p":"f","x":-3.1,"y":0.4},{"p":"f","x":-2.95,"y":0.45},{"p":"f","x":-2.8,"y":0.1},{"p":"f","x":-2.7,"y":0.25},{"p":"f","x":-2.6,"y":0.6},{"p":"f","x":-2.5,"y":-0.05},{"p":"f","x":-2.4,"y":0.15},{"p":"f","x":-2.3,"y":0.35},{"p":"f","x":-2.2,"y":0.05},{"p":"f","x":-2.1,"y":0.25},{"p":"f","x":-2.0,"y":0.5},{"p":"f","x":-1.95,"y":-0.05},{"p":"f","x":-1.85,"y":0.2},{"p":"f","x":-1.8,"y":0.35},{"p":"f","x":-1.7,"y":0.1},{"p":"f","x":-1.6,"y":0.4},{"p":"f","x":-1.55,"y":-0.02},{"p":"f","x":-1.5,"y":0.18},{"p":"f","x":-1.4,"y":0.3},{"p":"f","x":-1.3,"y":0.05},{"p":"f","x":-1.25,"y":0.4},{"p":"f","x":-1.2,"y":0.15},{"p":"f","x":-1.1,"y":-0.05},{"p":"f","x":-1.0,"y":0.2},{"p":"f","x":-0.9,"y":-0.1},{"p":"f","x":-0.8,"y":-0.2},{"p":"f","x":-0.7,"y":-0.02},{"p":"f","x":-0.6,"y":-0.25},{"p":"f","x":-0.5,"y":-0.12},{"p":"f","x":-0.4,"y":0.0},{"p":"f","x":-0.3,"y":-0.2},{"p":"f","x":-0.2,"y":-0.08},{"p":"f","x":-0.1,"y":-0.25},{"p":"f","x":0.0,"y":-0.15},{"p":"f","x":0.1,"y":0.0},{"p":"f","x":0.2,"y":-0.22},{"p":"f","x":0.3,"y":-0.1},{"p":"f","x":0.4,"y":-0.18},{"p":"f","x":0.5,"y":-0.05},{"p":"f","x":0.6,"y":-0.2},{"p":"f","x":0.7,"y":-0.1},{"p":"f","x":0.8,"y":0.02},{"p":"f","x":0.9,"y":-0.15},{"p":"f","x":1.0,"y":-0.05},{"p":"f","x":1.1,"y":-0.22},{"p":"f","x":1.2,"y":-0.1},{"p":"f","x":1.4,"y":0.1},{"p":"f","x":1.5,"y":-0.05},{"p":"f","x":1.6,"y":0.0},{"p":"f","x":1.7,"y":-0.15},{"p":"f","x":1.8,"y":-0.28},{"p":"f","x":1.9,"y":-0.05},{"p":"f","x":2.0,"y":-0.2},{"p":"f","x":2.2,"y":-0.12},{"p":"f","x":2.3,"y":-0.35},{"p":"f","x":2.4,"y":-0.22},{"p":"f","x":2.5,"y":-0.1},{"p":"f","x":2.6,"y":-0.4},{"p":"f","x":2.7,"y":-0.28},{"p":"f","x":2.8,"y":-0.15},{"p":"f","x":2.9,"y":-0.5},{"p":"f","x":3.0,"y":-0.3},{"p":"f","x":3.2,"y":-0.1},{"p":"f","x":3.3,"y":-0.2},{"p":"f","x":3.5,"y":-0.32},{"p":"f","x":3.7,"y":-0.35},{"p":"f","x":4.0,"y":0.05},{"p":"f","x":4.3,"y":-0.3},{"p":"f","x":4.8,"y":0.12},{"p":"f","x":4.9,"y":-0.38},{"p":"f","x":5.4,"y":-0.05},{"p":"f","x":5.6,"y":0.0},{"p":"f","x":5.6,"y":-0.2},{"p":"f","x":7.4,"y":-0.18},{"p":"f","x":-0.75,"y":-0.12},{"p":"f","x":-0.35,"y":-0.1},{"p":"f","x":0.05,"y":-0.08},{"p":"f","x":0.45,"y":-0.12},{"p":"f","x":-1.05,"y":0.1},{"p":"f","x":-1.45,"y":0.0},
{"p":"g","x":-4.47,"y":-0.1},{"p":"g","x":-4.45,"y":0.02},{"p":"g","x":-4.15,"y":0.23},{"p":"g","x":-4.05,"y":0.23},{"p":"g","x":-3.9,"y":0.07},{"p":"g","x":-3.6,"y":0.13},{"p":"g","x":-3.55,"y":-0.05},{"p":"g","x":-3.47,"y":-0.12},{"p":"g","x":-3.4,"y":0.42},{"p":"g","x":-3.38,"y":0.39},{"p":"g","x":-3.35,"y":-0.25},{"p":"g","x":-3.05,"y":-0.12},{"p":"g","x":-2.85,"y":0.0},{"p":"g","x":-2.8,"y":-0.37},{"p":"g","x":-2.7,"y":0.15},{"p":"g","x":-2.6,"y":-0.05},{"p":"g","x":-2.5,"y":0.08},{"p":"g","x":-2.45,"y":-0.15},{"p":"g","x":-2.4,"y":0.3},{"p":"g","x":-2.3,"y":-0.22},{"p":"g","x":-2.2,"y":0.1},{"p":"g","x":-2.1,"y":-0.05},{"p":"g","x":-2.0,"y":-0.3},{"p":"g","x":-1.95,"y":0.2},{"p":"g","x":-1.9,"y":-0.45},{"p":"g","x":-1.8,"y":0.05},{"p":"g","x":-1.7,"y":-0.15},{"p":"g","x":-1.6,"y":-0.4},{"p":"g","x":-1.5,"y":0.12},{"p":"g","x":-1.4,"y":-0.25},{"p":"g","x":-1.3,"y":0.0},{"p":"g","x":-1.2,"y":-0.35},{"p":"g","x":-1.1,"y":-0.1},{"p":"g","x":-1.0,"y":-0.45},{"p":"g","x":-0.9,"y":0.05},{"p":"g","x":-0.8,"y":-0.2},{"p":"g","x":-0.7,"y":-0.3},{"p":"g","x":-0.6,"y":0.0},{"p":"g","x":-0.5,"y":-0.15},{"p":"g","x":-0.4,"y":-0.38},{"p":"g","x":-0.3,"y":-0.05},{"p":"g","x":-0.2,"y":-0.25},{"p":"g","x":-0.1,"y":-0.12},{"p":"g","x":0.0,"y":-0.3},{"p":"g","x":0.05,"y":-0.05},{"p":"g","x":0.1,"y":-0.2},{"p":"g","x":0.2,"y":-0.4},{"p":"g","x":0.3,"y":0.1},{"p":"g","x":0.4,"y":-0.1},{"p":"g","x":0.45,"y":0.22},{"p":"g","x":0.5,"y":-0.25},{"p":"g","x":0.6,"y":0.05},{"p":"g","x":0.7,"y":0.3},{"p":"g","x":0.8,"y":-0.05},{"p":"g","x":0.9,"y":0.18},{"p":"g","x":1.0,"y":-0.2},{"p":"g","x":1.1,"y":0.35},{"p":"g","x":1.2,"y":0.1},{"p":"g","x":1.3,"y":0.5},{"p":"g","x":1.35,"y":0.55},{"p":"g","x":1.45,"y":0.5},{"p":"g","x":1.5,"y":0.25},{"p":"g","x":1.6,"y":0.03},{"p":"g","x":1.7,"y":-0.35},{"p":"g","x":1.8,"y":0.15},{"p":"g","x":1.9,"y":0.4},{"p":"g","x":2.0,"y":-0.1},{"p":"g","x":2.1,"y":-0.18},{"p":"g","x":2.3,"y":0.3},{"p":"g","x":2.45,"y":-0.05},{"p":"g","x":2.5,"y":0.1},{"p":"g","x":2.55,"y":0.45},{"p":"g","x":2.9,"y":-0.2},{"p":"g","x":3.0,"y":-0.1},{"p":"g","x":3.15,"y":-0.3},{"p":"g","x":3.5,"y":-0.35},{"p":"g","x":4.1,"y":-0.05},{"p":"g","x":4.1,"y":-0.25},{"p":"g","x":4.7,"y":0.5},{"p":"g","x":1.4,"y":0.62},{"p":"g","x":1.8,"y":0.58},{"p":"g","x":-1.65,"y":-0.05},{"p":"g","x":-1.25,"y":-0.2},{"p":"g","x":-0.85,"y":-0.1},{"p":"g","x":-0.35,"y":-0.2},{"p":"g","x":-0.05,"y":-0.2},{"p":"g","x":0.25,"y":-0.1},
{"p":"h","x":-4.55,"y":-0.12},{"p":"h","x":-4.2,"y":-0.17},{"p":"h","x":-4.1,"y":0.14},{"p":"h","x":-3.75,"y":-0.14},{"p":"h","x":-3.6,"y":0.05},{"p":"h","x":-3.6,"y":-0.12},{"p":"h","x":-3.45,"y":0.09},{"p":"h","x":-3.4,"y":0.33},{"p":"h","x":-3.3,"y":-0.32},{"p":"h","x":-3.15,"y":-0.32},{"p":"h","x":-2.95,"y":0.47},{"p":"h","x":-2.9,"y":0.31},{"p":"h","x":-2.75,"y":0.27},{"p":"h","x":-2.7,"y":0.22},{"p":"h","x":-2.55,"y":-0.15},{"p":"h","x":-2.5,"y":0.12},{"p":"h","x":-2.45,"y":0.05},{"p":"h","x":-2.35,"y":0.32},{"p":"h","x":-2.3,"y":0.2},{"p":"h","x":-2.25,"y":0.5},{"p":"h","x":-2.2,"y":0.38},{"p":"h","x":-2.2,"y":0.1},{"p":"h","x":-2.1,"y":0.25},{"p":"h","x":-2.0,"y":0.7},{"p":"h","x":-2.0,"y":0.35},{"p":"h","x":-1.95,"y":-0.15},{"p":"h","x":-1.9,"y":-0.35},{"p":"h","x":-1.8,"y":-0.2},{"p":"h","x":-1.7,"y":-0.65},{"p":"h","x":-1.6,"y":-0.4},{"p":"h","x":-1.55,"y":-0.28},{"p":"h","x":-1.5,"y":-0.1},{"p":"h","x":-1.45,"y":-0.5},{"p":"h","x":-1.4,"y":-0.22},{"p":"h","x":-1.3,"y":-0.35},{"p":"h","x":-1.2,"y":-0.15},{"p":"h","x":-1.15,"y":-0.45},{"p":"h","x":-1.1,"y":-0.25},{"p":"h","x":-1.0,"y":-0.32},{"p":"h","x":-0.95,"y":-0.1},{"p":"h","x":-0.9,"y":-0.55},{"p":"h","x":-0.8,"y":-0.2},{"p":"h","x":-0.75,"y":-0.38},{"p":"h","x":-0.7,"y":-0.05},{"p":"h","x":-0.6,"y":-0.6},{"p":"h","x":-0.5,"y":-0.3},{"p":"h","x":-0.45,"y":-0.15},{"p":"h","x":-0.4,"y":-0.4},{"p":"h","x":-0.3,"y":-0.2},{"p":"h","x":-0.2,"y":-0.28},{"p":"h","x":-0.15,"y":0.05},{"p":"h","x":-0.1,"y":-0.1},{"p":"h","x":0.0,"y":-0.05},{"p":"h","x":0.05,"y":-0.35},{"p":"h","x":0.1,"y":0.08},{"p":"h","x":0.2,"y":0.12},{"p":"h","x":0.3,"y":-0.15},{"p":"h","x":0.35,"y":0.2},{"p":"h","x":0.45,"y":0.05},{"p":"h","x":0.55,"y":0.3},{"p":"h","x":0.6,"y":0.38},{"p":"h","x":0.7,"y":-0.1},{"p":"h","x":0.75,"y":0.15},{"p":"h","x":0.8,"y":0.4},{"p":"h","x":0.9,"y":0.05},{"p":"h","x":1.0,"y":0.28},{"p":"h","x":1.05,"y":-0.05},{"p":"h","x":1.2,"y":0.2},{"p":"h","x":1.3,"y":0.1},{"p":"h","x":1.4,"y":-0.12},{"p":"h","x":1.5,"y":0.05},{"p":"h","x":1.6,"y":0.22},{"p":"h","x":1.75,"y":0.55},{"p":"h","x":1.9,"y":0.12},{"p":"h","x":2.05,"y":0.35},{"p":"h","x":2.2,"y":-0.05},{"p":"h","x":2.4,"y":0.05},{"p":"h","x":2.5,"y":0.18},{"p":"h","x":2.6,"y":0.48},{"p":"h","x":2.75,"y":0.42},{"p":"h","x":2.9,"y":0.05},{"p":"h","x":3.1,"y":0.18},{"p":"h","x":3.3,"y":-0.02},{"p":"h","x":3.4,"y":0.3},{"p":"h","x":3.7,"y":0.12},{"p":"h","x":4.1,"y":0.15},{"p":"h","x":4.2,"y":0.6},{"p":"h","x":4.3,"y":0.22},{"p":"h","x":2.6,"y":0.68},{"p":"h","x":-2.05,"y":0.5},{"p":"h","x":5.75,"y":0.1},{"p":"h","x":-1.25,"y":-0.2},{"p":"h","x":-0.85,"y":-0.3},{"p":"h","x":-0.55,"y":-0.2},{"p":"h","x":0.25,"y":0.0},{"p":"h","x":0.65,"y":0.1},{"p":"h","x":-1.35,"y":-0.1},
{"p":"i","x":-4.13,"y":0.55},{"p":"i","x":-4.1,"y":-0.37},{"p":"i","x":-3.7,"y":0.55},{"p":"i","x":-3.6,"y":0.15},{"p":"i","x":-3.5,"y":-0.28},{"p":"i","x":-3.45,"y":0.04},{"p":"i","x":-3.35,"y":0.45},{"p":"i","x":-3.25,"y":0.4},{"p":"i","x":-3.1,"y":0.85},{"p":"i","x":-3.0,"y":0.7},{"p":"i","x":-2.95,"y":0.1},{"p":"i","x":-2.9,"y":-0.35},{"p":"i","x":-2.85,"y":0.28},{"p":"i","x":-2.75,"y":-0.1},{"p":"i","x":-2.7,"y":0.15},{"p":"i","x":-2.6,"y":0.0},{"p":"i","x":-2.5,"y":0.05},{"p":"i","x":-2.4,"y":-0.2},{"p":"i","x":-2.3,"y":0.1},{"p":"i","x":-2.25,"y":0.6},{"p":"i","x":-2.15,"y":-0.02},{"p":"i","x":-2.1,"y":0.12},{"p":"i","x":-2.0,"y":-0.1},{"p":"i","x":-1.9,"y":0.06},{"p":"i","x":-1.8,"y":-0.25},{"p":"i","x":-1.75,"y":0.2},{"p":"i","x":-1.7,"y":-0.15},{"p":"i","x":-1.6,"y":-0.05},{"p":"i","x":-1.5,"y":0.1},{"p":"i","x":-1.45,"y":-0.3},{"p":"i","x":-1.35,"y":-0.12},{"p":"i","x":-1.25,"y":-0.02},{"p":"i","x":-1.15,"y":-0.25},{"p":"i","x":-1.05,"y":-0.08},{"p":"i","x":-0.95,"y":-0.2},{"p":"i","x":-0.85,"y":0.02},{"p":"i","x":-0.8,"y":-0.3},{"p":"i","x":-0.7,"y":-0.12},{"p":"i","x":-0.6,"y":-0.4},{"p":"i","x":-0.5,"y":-0.18},{"p":"i","x":-0.4,"y":-0.5},{"p":"i","x":-0.35,"y":-0.05},{"p":"i","x":-0.25,"y":-0.28},{"p":"i","x":-0.15,"y":-0.38},{"p":"i","x":-0.1,"y":-0.15},{"p":"i","x":0.0,"y":-0.22},{"p":"i","x":0.1,"y":-0.32},{"p":"i","x":0.2,"y":-0.1},{"p":"i","x":0.3,"y":-0.25},{"p":"i","x":0.4,"y":-0.35},{"p":"i","x":0.5,"y":-0.05},{"p":"i","x":0.55,"y":-0.2},{"p":"i","x":0.65,"y":0.05},{"p":"i","x":0.75,"y":-0.12},{"p":"i","x":0.85,"y":0.1},{"p":"i","x":0.95,"y":-0.05},{"p":"i","x":1.05,"y":0.2},{"p":"i","x":1.1,"y":0.3},{"p":"i","x":1.15,"y":0.05},{"p":"i","x":1.25,"y":0.12},{"p":"i","x":1.35,"y":0.22},{"p":"i","x":1.45,"y":0.0},{"p":"i","x":1.55,"y":-0.1},{"p":"i","x":1.6,"y":0.15},{"p":"i","x":1.7,"y":0.08},{"p":"i","x":1.8,"y":-0.05},{"p":"i","x":1.9,"y":0.12},{"p":"i","x":2.0,"y":-0.15},{"p":"i","x":2.1,"y":0.05},{"p":"i","x":2.2,"y":0.08},{"p":"i","x":2.3,"y":-0.08},{"p":"i","x":2.45,"y":0.6},{"p":"i","x":2.55,"y":0.65},{"p":"i","x":2.6,"y":0.3},{"p":"i","x":2.7,"y":-0.12},{"p":"i","x":2.8,"y":0.0},{"p":"i","x":3.0,"y":-0.15},{"p":"i","x":3.1,"y":0.15},{"p":"i","x":3.3,"y":0.3},{"p":"i","x":3.5,"y":0.28},{"p":"i","x":3.6,"y":0.35},{"p":"i","x":4.2,"y":0.4},{"p":"i","x":4.5,"y":0.3},{"p":"i","x":4.5,"y":-0.3},{"p":"i","x":6.0,"y":0.05},{"p":"i","x":6.55,"y":0.56},{"p":"i","x":-2.97,"y":0.76},{"p":"i","x":-2.82,"y":0.64},{"p":"i","x":-0.35,"y":-0.55},{"p":"i","x":-0.2,"y":-0.6},{"p":"i","x":0.15,"y":-0.45},{"p":"i","x":-1.0,"y":-0.1},{"p":"i","x":-0.55,"y":-0.28},{"p":"i","x":0.35,"y":-0.15}
]
},
"concat":[
{"width":253,"height":234,"resolve":{"scale":{"y":"independent"}},"layer":[
{"data":{"name":"bars"},"transform":[{"filter":"datum.p==='a'"}],"mark":{"type":"bar","orient":"vertical","size":5,"color":"#9a84c4","opacity":0.6},"encoding":{"x":{"field":"x","type":"quantitative","scale":{"domain":[-5.11,6.68],"nice":false,"zero":false},"axis":{"title":"Evapotranspiration","values":[-5,0,5],"format":"d"}},"y":{"field":"n","type":"quantitative","scale":{"domain":[0,28.8],"nice":false},"axis":{"title":"Distribution","values":[0,5,10,15,20,25],"format":"d"}}}},
{"layer":[
{"data":{"name":"fit"},"transform":[{"filter":"datum.p==='a'"}],"mark":{"type":"area","orient":"vertical","color":"#c8c8c8","opacity":0.5,"clip":true},"encoding":{"x":{"field":"x","type":"quantitative"},"y":{"field":"lo","type":"quantitative","scale":{"domain":[-2.08,2.16],"nice":false,"zero":false},"axis":{"title":"SHAP value (log-odds)","orient":"right","values":[-2,-1,0,1,2],"format":"d","titleAngle":270,"titleBaseline":"top"}},"y2":{"field":"hi"}}},
{"data":{"name":"pts"},"transform":[{"filter":"datum.p==='a'"}],"mark":{"type":"point","filled":true,"size":196,"opacity":0.85},"encoding":{"x":{"field":"x","type":"quantitative"},"y":{"field":"y","type":"quantitative"},"color":{"datum":"Sample","type":"nominal","scale":{"domain":["Sample","LOWESS Fit","95%CI","Distribution"],"range":["#1c1c8c","#9400d3","#dcdcdc","#b9a9d6"]},"legend":{"title":null}},"shape":{"datum":"Sample","type":"nominal","scale":{"domain":["Sample","LOWESS Fit","95%CI","Distribution"],"range":["M-0.5,0A0.5,0.5,0,1,0,0.5,0A0.5,0.5,0,1,0,-0.5,0Z","M-1.72,-0.17H1.72V0.17H-1.72Z","M-1.72,-0.7H1.72V0.7H-1.72Z","M-1.72,-0.7H1.72V0.7H-1.72Z"]},"legend":{"title":null}}}},
{"data":{"name":"fit"},"transform":[{"filter":"datum.p==='a'"}],"mark":{"type":"line","color":"#9400d3","strokeWidth":2,"clip":true},"encoding":{"x":{"field":"x","type":"quantitative"},"y":{"field":"y","type":"quantitative"}}},
{"data":{"values":[{}]},"mark":{"type":"rule","color":"black","strokeWidth":1,"strokeDash":[4,3]},"encoding":{"y":{"datum":0}}},
{"data":{"name":"thr"},"transform":[{"filter":"datum.p==='a'"}],"mark":{"type":"rule","color":"black","strokeWidth":1,"strokeDash":[4,3]},"encoding":{"x":{"field":"t","type":"quantitative"}}},
{"data":{"values":[{}]},"mark":{"type":"text","text":"(a)","font":"Liberation Serif","fontWeight":"bold","fontSize":21,"align":"left","baseline":"middle","color":"black"},"encoding":{"x":{"datum":-4.51},"y":{"datum":1.72}}},
{"data":{"name":"thr"},"transform":[{"filter":"datum.p==='a'"}],"mark":{"type":"point","filled":true,"color":"black","opacity":1,"strokeWidth":0},"encoding":{"x":{"field":"t","type":"quantitative"},"y":{"datum":1.81},"shape":{"condition":{"test":"length(datum.lab)>4","value":"M-1,-0.33H1V0.33H-1Z"},"value":"M-1,-0.38H1V0.38H-1Z"},"size":{"condition":{"test":"length(datum.lab)>4","value":2401},"value":1764}}},
{"data":{"name":"thr"},"transform":[{"filter":"datum.p==='a'"}],"mark":{"type":"text","font":"Liberation Serif","fontWeight":"bold","fontSize":17,"color":"white","align":"center","baseline":"middle"},"encoding":{"x":{"field":"t","type":"quantitative"},"y":{"datum":1.81},"text":{"field":"lab"}}}
]}
]},
{"width":253,"height":234,"resolve":{"scale":{"y":"independent"}},"layer":[
{"data":{"name":"bars"},"transform":[{"filter":"datum.p==='b'"}],"mark":{"type":"bar","orient":"vertical","size":5,"color":"#9a84c4","opacity":0.6},"encoding":{"x":{"field":"x","type":"quantitative","scale":{"domain":[-7.68,5.58],"nice":false,"zero":false},"axis":{"title":"LST_Night","values":[-5,0,5],"format":"d"}},"y":{"field":"n","type":"quantitative","scale":{"domain":[0,32],"nice":false},"axis":{"title":"Distribution","values":[0,10,20,30],"format":"d"}}}},
{"layer":[
{"data":{"name":"fit"},"transform":[{"filter":"datum.p==='b'"}],"mark":{"type":"area","orient":"vertical","color":"#c8c8c8","opacity":0.5,"clip":true},"encoding":{"x":{"field":"x","type":"quantitative"},"y":{"field":"lo","type":"quantitative","scale":{"domain":[-1.5,1.51],"nice":false,"zero":false},"axis":{"title":"SHAP value (log-odds)","orient":"right","values":[-1,0,1],"format":"d","titleAngle":270,"titleBaseline":"top"}},"y2":{"field":"hi"}}},
{"data":{"name":"pts"},"transform":[{"filter":"datum.p==='b'"}],"mark":{"type":"point","filled":true,"size":196,"opacity":0.85},"encoding":{"x":{"field":"x","type":"quantitative"},"y":{"field":"y","type":"quantitative"},"color":{"datum":"Sample","type":"nominal","scale":{"domain":["Sample","LOWESS Fit","95%CI","Distribution"],"range":["#1c1c8c","#9400d3","#dcdcdc","#b9a9d6"]},"legend":{"title":null}},"shape":{"datum":"Sample","type":"nominal","scale":{"domain":["Sample","LOWESS Fit","95%CI","Distribution"],"range":["M-0.5,0A0.5,0.5,0,1,0,0.5,0A0.5,0.5,0,1,0,-0.5,0Z","M-1.72,-0.17H1.72V0.17H-1.72Z","M-1.72,-0.7H1.72V0.7H-1.72Z","M-1.72,-0.7H1.72V0.7H-1.72Z"]},"legend":{"title":null}}}},
{"data":{"name":"fit"},"transform":[{"filter":"datum.p==='b'"}],"mark":{"type":"line","color":"#9400d3","strokeWidth":2,"clip":true},"encoding":{"x":{"field":"x","type":"quantitative"},"y":{"field":"y","type":"quantitative"}}},
{"data":{"values":[{}]},"mark":{"type":"rule","color":"black","strokeWidth":1,"strokeDash":[4,3]},"encoding":{"y":{"datum":0}}},
{"data":{"name":"thr"},"transform":[{"filter":"datum.p==='b'"}],"mark":{"type":"rule","color":"black","strokeWidth":1,"strokeDash":[4,3]},"encoding":{"x":{"field":"t","type":"quantitative"}}},
{"data":{"values":[{}]},"mark":{"type":"text","text":"(b)","font":"Liberation Serif","fontWeight":"bold","fontSize":21,"align":"left","baseline":"middle","color":"black"},"encoding":{"x":{"datum":-7.0},"y":{"datum":1.2}}},
{"data":{"name":"thr"},"transform":[{"filter":"datum.p==='b'"}],"mark":{"type":"point","filled":true,"color":"black","opacity":1,"strokeWidth":0},"encoding":{"x":{"field":"t","type":"quantitative"},"y":{"datum":1.26},"shape":{"condition":{"test":"length(datum.lab)>4","value":"M-1,-0.33H1V0.33H-1Z"},"value":"M-1,-0.38H1V0.38H-1Z"},"size":{"condition":{"test":"length(datum.lab)>4","value":2401},"value":1764}}},
{"data":{"name":"thr"},"transform":[{"filter":"datum.p==='b'"}],"mark":{"type":"text","font":"Liberation Serif","fontWeight":"bold","fontSize":17,"color":"white","align":"center","baseline":"middle"},"encoding":{"x":{"field":"t","type":"quantitative"},"y":{"datum":1.26},"text":{"field":"lab"}}}
]}
]},
{"width":253,"height":234,"resolve":{"scale":{"y":"independent"}},"layer":[
{"data":{"name":"bars"},"transform":[{"filter":"datum.p==='c'"}],"mark":{"type":"bar","orient":"vertical","size":5,"color":"#9a84c4","opacity":0.6},"encoding":{"x":{"field":"x","type":"quantitative","scale":{"domain":[-6.62,5.75],"nice":false,"zero":false},"axis":{"title":"Solar_Radiation","values":[-5,0,5],"format":"d"}},"y":{"field":"n","type":"quantitative","scale":{"domain":[0,35.4],"nice":false},"axis":{"title":"Distribution","values":[0,10,20,30],"format":"d"}}}},
{"layer":[
{"data":{"name":"fit"},"transform":[{"filter":"datum.p==='c'"}],"mark":{"type":"area","orient":"vertical","color":"#c8c8c8","opacity":0.5,"clip":true},"encoding":{"x":{"field":"x","type":"quantitative"},"y":{"field":"lo","type":"quantitative","scale":{"domain":[-1.97,1.98],"nice":false,"zero":false},"axis":{"title":"SHAP value (log-odds)","orient":"right","values":[-1,0,1],"format":"d","titleAngle":270,"titleBaseline":"top"}},"y2":{"field":"hi"}}},
{"data":{"name":"pts"},"transform":[{"filter":"datum.p==='c'"}],"mark":{"type":"point","filled":true,"size":196,"opacity":0.85},"encoding":{"x":{"field":"x","type":"quantitative"},"y":{"field":"y","type":"quantitative"},"color":{"datum":"Sample","type":"nominal","scale":{"domain":["Sample","LOWESS Fit","95%CI","Distribution"],"range":["#1c1c8c","#9400d3","#dcdcdc","#b9a9d6"]},"legend":{"title":null}},"shape":{"datum":"Sample","type":"nominal","scale":{"domain":["Sample","LOWESS Fit","95%CI","Distribution"],"range":["M-0.5,0A0.5,0.5,0,1,0,0.5,0A0.5,0.5,0,1,0,-0.5,0Z","M-1.72,-0.17H1.72V0.17H-1.72Z","M-1.72,-0.7H1.72V0.7H-1.72Z","M-1.72,-0.7H1.72V0.7H-1.72Z"]},"legend":{"title":null}}}},
{"data":{"name":"fit"},"transform":[{"filter":"datum.p==='c'"}],"mark":{"type":"line","color":"#9400d3","strokeWidth":2,"clip":true},"encoding":{"x":{"field":"x","type":"quantitative"},"y":{"field":"y","type":"quantitative"}}},
{"data":{"values":[{}]},"mark":{"type":"rule","color":"black","strokeWidth":1,"strokeDash":[4,3]},"encoding":{"y":{"datum":0}}},
{"data":{"name":"thr"},"transform":[{"filter":"datum.p==='c'"}],"mark":{"type":"rule","color":"black","strokeWidth":1,"strokeDash":[4,3]},"encoding":{"x":{"field":"t","type":"quantitative"}}},
{"data":{"values":[{}]},"mark":{"type":"text","text":"(c)","font":"Liberation Serif","fontWeight":"bold","fontSize":21,"align":"left","baseline":"middle","color":"black"},"encoding":{"x":{"datum":-5.98},"y":{"datum":1.57}}},
{"data":{"name":"thr"},"transform":[{"filter":"datum.p==='c'"}],"mark":{"type":"point","filled":true,"color":"black","opacity":1,"strokeWidth":0},"encoding":{"x":{"field":"t","type":"quantitative"},"y":{"datum":1.65},"shape":{"condition":{"test":"length(datum.lab)>4","value":"M-1,-0.33H1V0.33H-1Z"},"value":"M-1,-0.38H1V0.38H-1Z"},"size":{"condition":{"test":"length(datum.lab)>4","value":2401},"value":1764}}},
{"data":{"name":"thr"},"transform":[{"filter":"datum.p==='c'"}],"mark":{"type":"text","font":"Liberation Serif","fontWeight":"bold","fontSize":17,"color":"white","align":"center","baseline":"middle"},"encoding":{"x":{"field":"t","type":"quantitative"},"y":{"datum":1.65},"text":{"field":"lab"}}}
]}
]},
{"width":253,"height":234,"resolve":{"scale":{"y":"independent"}},"layer":[
{"data":{"name":"bars"},"transform":[{"filter":"datum.p==='d'"}],"mark":{"type":"bar","orient":"vertical","size":5,"color":"#9a84c4","opacity":0.6},"encoding":{"x":{"field":"x","type":"quantitative","scale":{"domain":[-9.46,9.95],"nice":false,"zero":false},"axis":{"title":"LST_Day","values":[-5,0,5],"format":"d"}},"y":{"field":"n","type":"quantitative","scale":{"domain":[0,28.8],"nice":false},"axis":{"title":"Distribution","values":[0,5,10,15,20,25],"format":"d"}}}},
{"layer":[
{"data":{"name":"fit"},"transform":[{"filter":"datum.p==='d'"}],"mark":{"type":"area","orient":"vertical","color":"#c8c8c8","opacity":0.5,"clip":true},"encoding":{"x":{"field":"x","type":"quantitative"},"y":{"field":"lo","type":"quantitative","scale":{"domain":[-1.43,1.46],"nice":false,"zero":false},"axis":{"title":"SHAP value (log-odds)","orient":"right","values":[-1,-0.5,0,0.5,1],"format":".1f","titleAngle":270,"titleBaseline":"top"}},"y2":{"field":"hi"}}},
{"data":{"name":"pts"},"transform":[{"filter":"datum.p==='d'"}],"mark":{"type":"point","filled":true,"size":196,"opacity":0.85},"encoding":{"x":{"field":"x","type":"quantitative"},"y":{"field":"y","type":"quantitative"},"color":{"datum":"Sample","type":"nominal","scale":{"domain":["Sample","LOWESS Fit","95%CI","Distribution"],"range":["#1c1c8c","#9400d3","#dcdcdc","#b9a9d6"]},"legend":{"title":null}},"shape":{"datum":"Sample","type":"nominal","scale":{"domain":["Sample","LOWESS Fit","95%CI","Distribution"],"range":["M-0.5,0A0.5,0.5,0,1,0,0.5,0A0.5,0.5,0,1,0,-0.5,0Z","M-1.72,-0.17H1.72V0.17H-1.72Z","M-1.72,-0.7H1.72V0.7H-1.72Z","M-1.72,-0.7H1.72V0.7H-1.72Z"]},"legend":{"title":null}}}},
{"data":{"name":"fit"},"transform":[{"filter":"datum.p==='d'"}],"mark":{"type":"line","color":"#9400d3","strokeWidth":2,"clip":true},"encoding":{"x":{"field":"x","type":"quantitative"},"y":{"field":"y","type":"quantitative"}}},
{"data":{"values":[{}]},"mark":{"type":"rule","color":"black","strokeWidth":1,"strokeDash":[4,3]},"encoding":{"y":{"datum":0}}},
{"data":{"name":"thr"},"transform":[{"filter":"datum.p==='d'"}],"mark":{"type":"rule","color":"black","strokeWidth":1,"strokeDash":[4,3]},"encoding":{"x":{"field":"t","type":"quantitative"}}},
{"data":{"values":[{}]},"mark":{"type":"text","text":"(d)","font":"Liberation Serif","fontWeight":"bold","fontSize":21,"align":"left","baseline":"middle","color":"black"},"encoding":{"x":{"datum":-8.46},"y":{"datum":1.16}}},
{"data":{"name":"thr"},"transform":[{"filter":"datum.p==='d'"}],"mark":{"type":"point","filled":true,"color":"black","opacity":1,"strokeWidth":0},"encoding":{"x":{"field":"t","type":"quantitative"},"y":{"datum":1.22},"shape":{"condition":{"test":"length(datum.lab)>4","value":"M-1,-0.33H1V0.33H-1Z"},"value":"M-1,-0.38H1V0.38H-1Z"},"size":{"condition":{"test":"length(datum.lab)>4","value":2401},"value":1764}}},
{"data":{"name":"thr"},"transform":[{"filter":"datum.p==='d'"}],"mark":{"type":"text","font":"Liberation Serif","fontWeight":"bold","fontSize":17,"color":"white","align":"center","baseline":"middle"},"encoding":{"x":{"field":"t","type":"quantitative"},"y":{"datum":1.22},"text":{"field":"lab"}}}
]}
]},
{"width":253,"height":234,"resolve":{"scale":{"y":"independent"}},"layer":[
{"data":{"name":"bars"},"transform":[{"filter":"datum.p==='e'"}],"mark":{"type":"bar","orient":"vertical","size":5,"color":"#9a84c4","opacity":0.6},"encoding":{"x":{"field":"x","type":"quantitative","scale":{"domain":[-2.51,3.63],"nice":false,"zero":false},"axis":{"title":"Elevation","values":[-2,0,2],"format":"d"}},"y":{"field":"n","type":"quantitative","scale":{"domain":[0,36.5],"nice":false},"axis":{"title":"Distribution","values":[0,10,20,30],"format":"d"}}}},
{"layer":[
{"data":{"name":"fit"},"transform":[{"filter":"datum.p==='e'"}],"mark":{"type":"area","orient":"vertical","color":"#c8c8c8","opacity":0.5,"clip":true},"encoding":{"x":{"field":"x","type":"quantitative"},"y":{"field":"lo","type":"quantitative","scale":{"domain":[-1.13,1.156],"nice":false,"zero":false},"axis":{"title":"SHAP value (log-odds)","orient":"right","values":[-1,-0.5,0,0.5,1],"format":".1f","titleAngle":270,"titleBaseline":"top"}},"y2":{"field":"hi"}}},
{"data":{"name":"pts"},"transform":[{"filter":"datum.p==='e'"}],"mark":{"type":"point","filled":true,"size":196,"opacity":0.85},"encoding":{"x":{"field":"x","type":"quantitative"},"y":{"field":"y","type":"quantitative"},"color":{"datum":"Sample","type":"nominal","scale":{"domain":["Sample","LOWESS Fit","95%CI","Distribution"],"range":["#1c1c8c","#9400d3","#dcdcdc","#b9a9d6"]},"legend":{"title":null}},"shape":{"datum":"Sample","type":"nominal","scale":{"domain":["Sample","LOWESS Fit","95%CI","Distribution"],"range":["M-0.5,0A0.5,0.5,0,1,0,0.5,0A0.5,0.5,0,1,0,-0.5,0Z","M-1.72,-0.17H1.72V0.17H-1.72Z","M-1.72,-0.7H1.72V0.7H-1.72Z","M-1.72,-0.7H1.72V0.7H-1.72Z"]},"legend":{"title":null}}}},
{"data":{"name":"fit"},"transform":[{"filter":"datum.p==='e'"}],"mark":{"type":"line","color":"#9400d3","strokeWidth":2,"clip":true},"encoding":{"x":{"field":"x","type":"quantitative"},"y":{"field":"y","type":"quantitative"}}},
{"data":{"values":[{}]},"mark":{"type":"rule","color":"black","strokeWidth":1,"strokeDash":[4,3]},"encoding":{"y":{"datum":0}}},
{"data":{"name":"thr"},"transform":[{"filter":"datum.p==='e'"}],"mark":{"type":"rule","color":"black","strokeWidth":1,"strokeDash":[4,3]},"encoding":{"x":{"field":"t","type":"quantitative"}}},
{"data":{"values":[{}]},"mark":{"type":"text","text":"(e)","font":"Liberation Serif","fontWeight":"bold","fontSize":21,"align":"left","baseline":"middle","color":"black"},"encoding":{"x":{"datum":-2.19},"y":{"datum":0.921}}},
{"data":{"name":"thr"},"transform":[{"filter":"datum.p==='e'"}],"mark":{"type":"point","filled":true,"color":"black","opacity":1,"strokeWidth":0},"encoding":{"x":{"field":"t","type":"quantitative"},"y":{"datum":0.967},"shape":{"condition":{"test":"length(datum.lab)>4","value":"M-1,-0.33H1V0.33H-1Z"},"value":"M-1,-0.38H1V0.38H-1Z"},"size":{"condition":{"test":"length(datum.lab)>4","value":2401},"value":1764}}},
{"data":{"name":"thr"},"transform":[{"filter":"datum.p==='e'"}],"mark":{"type":"text","font":"Liberation Serif","fontWeight":"bold","fontSize":17,"color":"white","align":"center","baseline":"middle"},"encoding":{"x":{"field":"t","type":"quantitative"},"y":{"datum":0.967},"text":{"field":"lab"}}}
]}
]},
{"width":253,"height":234,"resolve":{"scale":{"y":"independent"}},"layer":[
{"data":{"name":"bars"},"transform":[{"filter":"datum.p==='f'"}],"mark":{"type":"bar","orient":"vertical","size":5,"color":"#9a84c4","opacity":0.6},"encoding":{"x":{"field":"x","type":"quantitative","scale":{"domain":[-6.74,8.13],"nice":false,"zero":false},"axis":{"title":"Cloud_Cover","values":[-5,0,5],"format":"d"}},"y":{"field":"n","type":"quantitative","scale":{"domain":[0,34.4],"nice":false},"axis":{"title":"Distribution","values":[0,10,20,30],"format":"d"}}}},
{"layer":[
{"data":{"name":"fit"},"transform":[{"filter":"datum.p==='f'"}],"mark":{"type":"area","orient":"vertical","color":"#c8c8c8","opacity":0.5,"clip":true},"encoding":{"x":{"field":"x","type":"quantitative"},"y":{"field":"lo","type":"quantitative","scale":{"domain":[-1.93,1.97],"nice":false,"zero":false},"axis":{"title":"SHAP value (log-odds)","orient":"right","values":[-1,0,1],"format":"d","titleAngle":270,"titleBaseline":"top"}},"y2":{"field":"hi"}}},
{"data":{"name":"pts"},"transform":[{"filter":"datum.p==='f'"}],"mark":{"type":"point","filled":true,"size":196,"opacity":0.85},"encoding":{"x":{"field":"x","type":"quantitative"},"y":{"field":"y","type":"quantitative"},"color":{"datum":"Sample","type":"nominal","scale":{"domain":["Sample","LOWESS Fit","95%CI","Distribution"],"range":["#1c1c8c","#9400d3","#dcdcdc","#b9a9d6"]},"legend":{"title":null}},"shape":{"datum":"Sample","type":"nominal","scale":{"domain":["Sample","LOWESS Fit","95%CI","Distribution"],"range":["M-0.5,0A0.5,0.5,0,1,0,0.5,0A0.5,0.5,0,1,0,-0.5,0Z","M-1.72,-0.17H1.72V0.17H-1.72Z","M-1.72,-0.7H1.72V0.7H-1.72Z","M-1.72,-0.7H1.72V0.7H-1.72Z"]},"legend":{"title":null}}}},
{"data":{"name":"fit"},"transform":[{"filter":"datum.p==='f'"}],"mark":{"type":"line","color":"#9400d3","strokeWidth":2,"clip":true},"encoding":{"x":{"field":"x","type":"quantitative"},"y":{"field":"y","type":"quantitative"}}},
{"data":{"values":[{}]},"mark":{"type":"rule","color":"black","strokeWidth":1,"strokeDash":[4,3]},"encoding":{"y":{"datum":0}}},
{"data":{"name":"thr"},"transform":[{"filter":"datum.p==='f'"}],"mark":{"type":"rule","color":"black","strokeWidth":1,"strokeDash":[4,3]},"encoding":{"x":{"field":"t","type":"quantitative"}}},
{"data":{"values":[{}]},"mark":{"type":"text","text":"(f)","font":"Liberation Serif","fontWeight":"bold","fontSize":21,"align":"left","baseline":"middle","color":"black"},"encoding":{"x":{"datum":-5.97},"y":{"datum":1.57}}},
{"data":{"name":"thr"},"transform":[{"filter":"datum.p==='f'"}],"mark":{"type":"point","filled":true,"color":"black","opacity":1,"strokeWidth":0},"encoding":{"x":{"field":"t","type":"quantitative"},"y":{"datum":1.65},"shape":{"condition":{"test":"length(datum.lab)>4","value":"M-1,-0.33H1V0.33H-1Z"},"value":"M-1,-0.38H1V0.38H-1Z"},"size":{"condition":{"test":"length(datum.lab)>4","value":2401},"value":1764}}},
{"data":{"name":"thr"},"transform":[{"filter":"datum.p==='f'"}],"mark":{"type":"text","font":"Liberation Serif","fontWeight":"bold","fontSize":17,"color":"white","align":"center","baseline":"middle"},"encoding":{"x":{"field":"t","type":"quantitative"},"y":{"datum":1.65},"text":{"field":"lab"}}}
]}
]},
{"width":253,"height":234,"resolve":{"scale":{"y":"independent"}},"layer":[
{"data":{"name":"bars"},"transform":[{"filter":"datum.p==='g'"}],"mark":{"type":"bar","orient":"vertical","size":5,"color":"#9a84c4","opacity":0.6},"encoding":{"x":{"field":"x","type":"quantitative","scale":{"domain":[-4.89,5.04],"nice":false,"zero":false},"axis":{"title":"Wind_Speed","values":[0,5],"format":"d"}},"y":{"field":"n","type":"quantitative","scale":{"domain":[0,28.8],"nice":false},"axis":{"title":"Distribution","values":[0,5,10,15,20,25],"format":"d"}}}},
{"layer":[
{"data":{"name":"fit"},"transform":[{"filter":"datum.p==='g'"}],"mark":{"type":"area","orient":"vertical","color":"#c8c8c8","opacity":0.5,"clip":true},"encoding":{"x":{"field":"x","type":"quantitative"},"y":{"field":"lo","type":"quantitative","scale":{"domain":[-0.95,0.97],"nice":false,"zero":false},"axis":{"title":"SHAP value (log-odds)","orient":"right","values":[-0.5,0,0.5],"format":".1f","titleAngle":270,"titleBaseline":"top"}},"y2":{"field":"hi"}}},
{"data":{"name":"pts"},"transform":[{"filter":"datum.p==='g'"}],"mark":{"type":"point","filled":true,"size":196,"opacity":0.85},"encoding":{"x":{"field":"x","type":"quantitative"},"y":{"field":"y","type":"quantitative"},"color":{"datum":"Sample","type":"nominal","scale":{"domain":["Sample","LOWESS Fit","95%CI","Distribution"],"range":["#1c1c8c","#9400d3","#dcdcdc","#b9a9d6"]},"legend":{"title":null}},"shape":{"datum":"Sample","type":"nominal","scale":{"domain":["Sample","LOWESS Fit","95%CI","Distribution"],"range":["M-0.5,0A0.5,0.5,0,1,0,0.5,0A0.5,0.5,0,1,0,-0.5,0Z","M-1.72,-0.17H1.72V0.17H-1.72Z","M-1.72,-0.7H1.72V0.7H-1.72Z","M-1.72,-0.7H1.72V0.7H-1.72Z"]},"legend":{"title":null}}}},
{"data":{"name":"fit"},"transform":[{"filter":"datum.p==='g'"}],"mark":{"type":"line","color":"#9400d3","strokeWidth":2,"clip":true},"encoding":{"x":{"field":"x","type":"quantitative"},"y":{"field":"y","type":"quantitative"}}},
{"data":{"values":[{}]},"mark":{"type":"rule","color":"black","strokeWidth":1,"strokeDash":[4,3]},"encoding":{"y":{"datum":0}}},
{"data":{"name":"thr"},"transform":[{"filter":"datum.p==='g'"}],"mark":{"type":"rule","color":"black","strokeWidth":1,"strokeDash":[4,3]},"encoding":{"x":{"field":"t","type":"quantitative"}}},
{"data":{"values":[{}]},"mark":{"type":"text","text":"(g)","font":"Liberation Serif","fontWeight":"bold","fontSize":21,"align":"left","baseline":"middle","color":"black"},"encoding":{"x":{"datum":-4.37},"y":{"datum":0.773}}},
{"data":{"name":"thr"},"transform":[{"filter":"datum.p==='g'"}],"mark":{"type":"point","filled":true,"color":"black","opacity":1,"strokeWidth":0},"encoding":{"x":{"field":"t","type":"quantitative"},"y":{"datum":0.811},"shape":{"condition":{"test":"length(datum.lab)>4","value":"M-1,-0.33H1V0.33H-1Z"},"value":"M-1,-0.38H1V0.38H-1Z"},"size":{"condition":{"test":"length(datum.lab)>4","value":2401},"value":1764}}},
{"data":{"name":"thr"},"transform":[{"filter":"datum.p==='g'"}],"mark":{"type":"text","font":"Liberation Serif","fontWeight":"bold","fontSize":17,"color":"white","align":"center","baseline":"middle"},"encoding":{"x":{"field":"t","type":"quantitative"},"y":{"datum":0.811},"text":{"field":"lab"}}}
]}
]},
{"width":253,"height":234,"resolve":{"scale":{"y":"independent"}},"layer":[
{"data":{"name":"bars"},"transform":[{"filter":"datum.p==='h'"}],"mark":{"type":"bar","orient":"vertical","size":5,"color":"#9a84c4","opacity":0.6},"encoding":{"x":{"field":"x","type":"quantitative","scale":{"domain":[-5.03,6.27],"nice":false,"zero":false},"axis":{"title":"Slope","values":[-5,0,5],"format":"d"}},"y":{"field":"n","type":"quantitative","scale":{"domain":[0,27.7],"nice":false},"axis":{"title":"Distribution","values":[0,5,10,15,20,25],"format":"d"}}}},
{"layer":[
{"data":{"name":"fit"},"transform":[{"filter":"datum.p==='h'"}],"mark":{"type":"area","orient":"vertical","color":"#c8c8c8","opacity":0.5,"clip":true},"encoding":{"x":{"field":"x","type":"quantitative"},"y":{"field":"lo","type":"quantitative","scale":{"domain":[-0.722,0.743],"nice":false,"zero":false},"axis":{"title":"SHAP value (log-odds)","orient":"right","values":[-0.5,-0.25,0,0.25,0.5],"format":".2f","titleAngle":270,"titleBaseline":"top"}},"y2":{"field":"hi"}}},
{"data":{"name":"pts"},"transform":[{"filter":"datum.p==='h'"}],"mark":{"type":"point","filled":true,"size":196,"opacity":0.85},"encoding":{"x":{"field":"x","type":"quantitative"},"y":{"field":"y","type":"quantitative"},"color":{"datum":"Sample","type":"nominal","scale":{"domain":["Sample","LOWESS Fit","95%CI","Distribution"],"range":["#1c1c8c","#9400d3","#dcdcdc","#b9a9d6"]},"legend":{"title":null}},"shape":{"datum":"Sample","type":"nominal","scale":{"domain":["Sample","LOWESS Fit","95%CI","Distribution"],"range":["M-0.5,0A0.5,0.5,0,1,0,0.5,0A0.5,0.5,0,1,0,-0.5,0Z","M-1.72,-0.17H1.72V0.17H-1.72Z","M-1.72,-0.7H1.72V0.7H-1.72Z","M-1.72,-0.7H1.72V0.7H-1.72Z"]},"legend":{"title":null}}}},
{"data":{"name":"fit"},"transform":[{"filter":"datum.p==='h'"}],"mark":{"type":"line","color":"#9400d3","strokeWidth":2,"clip":true},"encoding":{"x":{"field":"x","type":"quantitative"},"y":{"field":"y","type":"quantitative"}}},
{"data":{"values":[{}]},"mark":{"type":"rule","color":"black","strokeWidth":1,"strokeDash":[4,3]},"encoding":{"y":{"datum":0}}},
{"data":{"name":"thr"},"transform":[{"filter":"datum.p==='h'"}],"mark":{"type":"rule","color":"black","strokeWidth":1,"strokeDash":[4,3]},"encoding":{"x":{"field":"t","type":"quantitative"}}},
{"data":{"values":[{}]},"mark":{"type":"text","text":"(h)","font":"Liberation Serif","fontWeight":"bold","fontSize":21,"align":"left","baseline":"middle","color":"black"},"encoding":{"x":{"datum":-4.45},"y":{"datum":0.592}}},
{"data":{"name":"thr"},"transform":[{"filter":"datum.p==='h'"}],"mark":{"type":"point","filled":true,"color":"black","opacity":1,"strokeWidth":0},"encoding":{"x":{"field":"t","type":"quantitative"},"y":{"datum":0.622},"shape":{"condition":{"test":"length(datum.lab)>4","value":"M-1,-0.33H1V0.33H-1Z"},"value":"M-1,-0.38H1V0.38H-1Z"},"size":{"condition":{"test":"length(datum.lab)>4","value":2401},"value":1764}}},
{"data":{"name":"thr"},"transform":[{"filter":"datum.p==='h'"}],"mark":{"type":"text","font":"Liberation Serif","fontWeight":"bold","fontSize":17,"color":"white","align":"center","baseline":"middle"},"encoding":{"x":{"field":"t","type":"quantitative"},"y":{"datum":0.622},"text":{"field":"lab"}}}
]}
]},
{"width":253,"height":234,"resolve":{"scale":{"y":"independent"}},"layer":[
{"data":{"name":"bars"},"transform":[{"filter":"datum.p==='i'"}],"mark":{"type":"bar","orient":"vertical","size":5,"color":"#9a84c4","opacity":0.6},"encoding":{"x":{"field":"x","type":"quantitative","scale":{"domain":[-4.67,7.04],"nice":false,"zero":false},"axis":{"title":"Soil_Moisture","values":[0,5],"format":"d"}},"y":{"field":"n","type":"quantitative","scale":{"domain":[0,26.4],"nice":false},"axis":{"title":"Distribution","values":[0,5,10,15,20,25],"format":"d"}}}},
{"layer":[
{"data":{"name":"fit"},"transform":[{"filter":"datum.p==='i'"}],"mark":{"type":"area","orient":"vertical","color":"#c8c8c8","opacity":0.5,"clip":true},"encoding":{"x":{"field":"x","type":"quantitative"},"y":{"field":"lo","type":"quantitative","scale":{"domain":[-1.06,1.07],"nice":false,"zero":false},"axis":{"title":"SHAP value (log-odds)","orient":"right","values":[-1,-0.5,0,0.5,1],"format":".1f","titleAngle":270,"titleBaseline":"top"}},"y2":{"field":"hi"}}},
{"data":{"name":"pts"},"transform":[{"filter":"datum.p==='i'"}],"mark":{"type":"point","filled":true,"size":196,"opacity":0.85},"encoding":{"x":{"field":"x","type":"quantitative"},"y":{"field":"y","type":"quantitative"},"color":{"datum":"Sample","type":"nominal","scale":{"domain":["Sample","LOWESS Fit","95%CI","Distribution"],"range":["#1c1c8c","#9400d3","#dcdcdc","#b9a9d6"]},"legend":{"title":null}},"shape":{"datum":"Sample","type":"nominal","scale":{"domain":["Sample","LOWESS Fit","95%CI","Distribution"],"range":["M-0.5,0A0.5,0.5,0,1,0,0.5,0A0.5,0.5,0,1,0,-0.5,0Z","M-1.72,-0.17H1.72V0.17H-1.72Z","M-1.72,-0.7H1.72V0.7H-1.72Z","M-1.72,-0.7H1.72V0.7H-1.72Z"]},"legend":{"title":null}}}},
{"data":{"name":"fit"},"transform":[{"filter":"datum.p==='i'"}],"mark":{"type":"line","color":"#9400d3","strokeWidth":2,"clip":true},"encoding":{"x":{"field":"x","type":"quantitative"},"y":{"field":"y","type":"quantitative"}}},
{"data":{"values":[{}]},"mark":{"type":"rule","color":"black","strokeWidth":1,"strokeDash":[4,3]},"encoding":{"y":{"datum":0}}},
{"data":{"name":"thr"},"transform":[{"filter":"datum.p==='i'"}],"mark":{"type":"rule","color":"black","strokeWidth":1,"strokeDash":[4,3]},"encoding":{"x":{"field":"t","type":"quantitative"}}},
{"data":{"values":[{}]},"mark":{"type":"text","text":"(i)","font":"Liberation Serif","fontWeight":"bold","fontSize":21,"align":"left","baseline":"middle","color":"black"},"encoding":{"x":{"datum":-4.07},"y":{"datum":0.85}}},
{"data":{"name":"thr"},"transform":[{"filter":"datum.p==='i' && datum.t<2"}],"mark":{"type":"point","filled":true,"color":"black","opacity":1,"strokeWidth":0},"encoding":{"x":{"field":"t","type":"quantitative"},"y":{"datum":0.893},"shape":{"condition":{"test":"length(datum.lab)>4","value":"M-1,-0.33H1V0.33H-1Z"},"value":"M-1,-0.38H1V0.38H-1Z"},"size":{"condition":{"test":"length(datum.lab)>4","value":2401},"value":1764}}},
{"data":{"name":"thr"},"transform":[{"filter":"datum.p==='i' && datum.t<2"}],"mark":{"type":"text","font":"Liberation Serif","fontWeight":"bold","fontSize":17,"color":"white","align":"center","baseline":"middle"},"encoding":{"x":{"field":"t","type":"quantitative"},"y":{"datum":0.893},"text":{"field":"lab"}}},
{"data":{"name":"thr"},"transform":[{"filter":"datum.p==='i' && datum.lab==='2.57'"}],"mark":{"type":"point","filled":true,"color":"black","opacity":1,"strokeWidth":0,"shape":"M-1,-0.38H1V0.38H-1Z","size":1764},"encoding":{"x":{"field":"t","type":"quantitative"},"y":{"datum":0.893}}},
{"data":{"name":"thr"},"transform":[{"filter":"datum.p==='i' && datum.lab==='2.57'"}],"mark":{"type":"text","font":"Liberation Serif","fontWeight":"bold","fontSize":17,"color":"white","align":"center","baseline":"middle"},"encoding":{"x":{"field":"t","type":"quantitative"},"y":{"datum":0.893},"text":{"field":"lab"}}},
{"data":{"name":"thr"},"transform":[{"filter":"datum.p==='i' && datum.lab==='2.19'"}],"mark":{"type":"point","filled":true,"color":"black","opacity":1,"strokeWidth":0,"shape":"M-1,-0.38H1V0.38H-1Z","size":1764},"encoding":{"x":{"field":"t","type":"quantitative"},"y":{"datum":0.466}}},
{"data":{"name":"thr"},"transform":[{"filter":"datum.p==='i' && datum.lab==='2.19'"}],"mark":{"type":"text","font":"Liberation Serif","fontWeight":"bold","fontSize":17,"color":"white","align":"center","baseline":"middle"},"encoding":{"x":{"field":"t","type":"quantitative"},"y":{"datum":0.466},"text":{"field":"lab"}}}
]}
]}
]
}
